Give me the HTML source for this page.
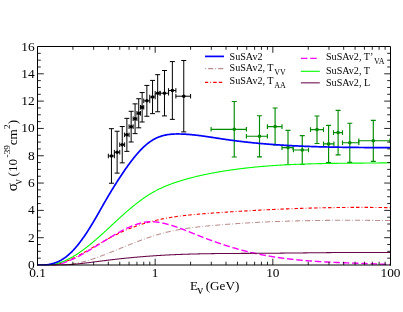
<!DOCTYPE html>
<html><head><meta charset="utf-8"><title>SuSAv2 cross section</title>
<style>html,body{margin:0;padding:0;background:#fff}svg{display:block;will-change:transform;opacity:0.999}text{font-family:"Liberation Serif",serif;fill:#000}</style>
</head><body>
<svg width="403" height="312" viewBox="0 0 403 312">
<rect width="403" height="312" fill="#fff"/>
<defs><clipPath id="c"><rect x="37.0" y="46.0" width="354.0" height="219.5"/></clipPath></defs>
<g clip-path="url(#c)">
<g stroke="#000" stroke-width="1.0" fill="none"><path d="M111.44,128.68V183.23M108.94,128.68H113.94M108.94,183.23H113.94M108.34,155.95H114.36M108.34,153.65V158.25M114.36,153.65V158.25"/><circle cx="111.44" cy="155.95" r="1.75" fill="#000" stroke="none"/></g>
<g stroke="#000" stroke-width="1.0" fill="none"><path d="M117.12,131.26V173.11M114.62,131.26H119.62M114.62,173.11H119.62M114.36,152.19H119.75M114.36,149.89V154.49M119.75,149.89V154.49"/><circle cx="117.12" cy="152.19" r="1.75" fill="#000" stroke="none"/></g>
<g stroke="#000" stroke-width="1.0" fill="none"><path d="M122.24,126.54V162.86M119.74,126.54H124.74M119.74,162.86H124.74M119.75,144.70H124.62M119.75,142.40V147.00M124.62,142.40V147.00"/><circle cx="122.24" cy="144.70" r="1.75" fill="#000" stroke="none"/></g>
<g stroke="#000" stroke-width="1.0" fill="none"><path d="M126.89,118.35V151.37M124.39,118.35H129.39M124.39,151.37H129.39M124.62,134.86H129.06M124.62,132.56V137.16M129.06,132.56V137.16"/><circle cx="126.89" cy="134.86" r="1.75" fill="#000" stroke="none"/></g>
<g stroke="#000" stroke-width="1.0" fill="none"><path d="M131.15,111.31V142.01M128.65,111.31H133.65M128.65,142.01H133.65M129.06,126.66H133.15M129.06,124.36V128.96M133.15,124.36V128.96"/><circle cx="131.15" cy="126.66" r="1.75" fill="#000" stroke="none"/></g>
<g stroke="#000" stroke-width="1.0" fill="none"><path d="M135.08,103.87V133.61M132.58,103.87H137.58M132.58,133.61H137.58M133.15,118.74H136.94M133.15,116.44V121.04M136.94,116.44V121.04"/><circle cx="135.08" cy="118.74" r="1.75" fill="#000" stroke="none"/></g>
<g stroke="#000" stroke-width="1.0" fill="none"><path d="M138.73,98.74V127.82M136.23,98.74H141.23M136.23,127.82H141.23M136.94,113.28H140.47M136.94,110.98V115.58M140.47,110.98V115.58"/><circle cx="138.73" cy="113.28" r="1.75" fill="#000" stroke="none"/></g>
<g stroke="#000" stroke-width="1.0" fill="none"><path d="M142.14,92.55V121.99M139.64,92.55H144.64M139.64,121.99H144.64M140.47,107.27H143.76M140.47,104.97V109.57M143.76,104.97V109.57"/><circle cx="142.14" cy="107.27" r="1.75" fill="#000" stroke="none"/></g>
<g stroke="#000" stroke-width="1.0" fill="none"><path d="M146.86,85.43V116.27M144.36,85.43H149.36M144.36,116.27H149.36M143.76,100.85H149.78M143.76,98.55V103.15M149.78,98.55V103.15"/><circle cx="146.86" cy="100.85" r="1.75" fill="#000" stroke="none"/></g>
<g stroke="#000" stroke-width="1.0" fill="none"><path d="M152.55,80.41V113.65M150.05,80.41H155.05M150.05,113.65H155.05M149.78,97.03H155.17M149.78,94.73V99.33M155.17,94.73V99.33"/><circle cx="152.55" cy="97.03" r="1.75" fill="#000" stroke="none"/></g>
<g stroke="#000" stroke-width="1.0" fill="none"><path d="M157.66,74.65V111.76M155.16,74.65H160.16M155.16,111.76H160.16M155.17,93.20H160.04M155.17,90.90V95.50M160.04,90.90V95.50"/><circle cx="157.66" cy="93.20" r="1.75" fill="#000" stroke="none"/></g>
<g stroke="#000" stroke-width="1.0" fill="none"><path d="M164.48,70.51V115.90M161.98,70.51H166.98M161.98,115.90H166.98M160.04,93.20H168.57M160.04,90.90V95.50M168.57,90.90V95.50"/><circle cx="164.48" cy="93.20" r="1.75" fill="#000" stroke="none"/></g>
<g stroke="#000" stroke-width="1.0" fill="none"><path d="M172.36,61.58V119.37M169.86,61.58H174.86M169.86,119.37H174.86M168.57,90.47H175.89M168.57,88.17V92.77M175.89,88.17V92.77"/><circle cx="172.36" cy="90.47" r="1.75" fill="#000" stroke="none"/></g>
<g stroke="#000" stroke-width="1.0" fill="none"><path d="M183.76,60.52V131.89M181.26,60.52H186.26M181.26,131.89H186.26M175.89,96.21H190.59M175.89,93.91V98.51M190.59,93.91V98.51"/><circle cx="183.76" cy="96.21" r="1.75" fill="#000" stroke="none"/></g>
<g stroke="#008b00" stroke-width="1.15" fill="none"><path d="M234.25,101.50V157.00M231.75,101.50H236.75M231.75,157.00H236.75M211.10,129.30H246.40M211.10,127.00V131.60M246.40,127.00V131.60"/><circle cx="234.25" cy="129.30" r="1.8" fill="#008b00" stroke="none"/></g>
<g stroke="#008b00" stroke-width="1.15" fill="none"><path d="M259.50,115.75V156.90M257.00,115.75H262.00M257.00,156.90H262.00M246.40,136.25H267.40M246.40,133.95V138.55M267.40,133.95V138.55"/><circle cx="259.50" cy="136.25" r="1.8" fill="#008b00" stroke="none"/></g>
<g stroke="#008b00" stroke-width="1.15" fill="none"><path d="M275.10,108.00V145.00M272.60,108.00H277.60M272.60,145.00H277.60M267.40,126.60H282.00M267.40,124.30V128.90M282.00,124.30V128.90"/><circle cx="275.10" cy="126.60" r="1.8" fill="#008b00" stroke="none"/></g>
<g stroke="#008b00" stroke-width="1.15" fill="none"><path d="M288.00,130.40V164.50M285.50,130.40H290.50M285.50,164.50H290.50M282.00,147.60H293.10M282.00,145.30V149.90M293.10,145.30V149.90"/><circle cx="288.00" cy="147.60" r="1.8" fill="#008b00" stroke="none"/></g>
<g stroke="#008b00" stroke-width="1.15" fill="none"><path d="M302.25,135.60V164.50M299.75,135.60H304.75M299.75,164.50H304.75M293.40,150.00H308.50M293.40,147.70V152.30M308.50,147.70V152.30"/><circle cx="302.25" cy="150.00" r="1.8" fill="#008b00" stroke="none"/></g>
<g stroke="#008b00" stroke-width="1.15" fill="none"><path d="M317.00,116.00V143.50M314.50,116.00H319.50M314.50,143.50H319.50M310.50,129.60H323.50M310.50,127.30V131.90M323.50,127.30V131.90"/><circle cx="317.00" cy="129.60" r="1.8" fill="#008b00" stroke="none"/></g>
<g stroke="#008b00" stroke-width="1.15" fill="none"><path d="M328.60,125.40V162.50M326.10,125.40H331.10M326.10,162.50H331.10M323.50,143.90H333.90M323.50,141.60V146.20M333.90,141.60V146.20"/><circle cx="328.60" cy="143.90" r="1.8" fill="#008b00" stroke="none"/></g>
<g stroke="#008b00" stroke-width="1.15" fill="none"><path d="M338.10,110.30V154.80M335.60,110.30H340.60M335.60,154.80H340.60M333.50,132.60H342.50M333.50,130.30V134.90M342.50,130.30V134.90"/><circle cx="338.10" cy="132.60" r="1.8" fill="#008b00" stroke="none"/></g>
<g stroke="#008b00" stroke-width="1.15" fill="none"><path d="M349.80,123.20V162.40M347.30,123.20H352.30M347.30,162.40H352.30M342.50,142.70H358.80M342.50,140.40V145.00M358.80,140.40V145.00"/><circle cx="349.80" cy="142.70" r="1.8" fill="#008b00" stroke="none"/></g>
<g stroke="#008b00" stroke-width="1.15" fill="none"><path d="M373.30,120.40V161.40M370.80,120.40H375.80M370.80,161.40H375.80M358.80,140.75H390.00M358.80,138.45V143.05M390.00,138.45V143.05"/><circle cx="373.30" cy="140.75" r="1.8" fill="#008b00" stroke="none"/></g>
<path d="M37.5,264.99 L38.0,265.00 L38.5,265.00 L39.0,265.00 L39.5,265.00 L40.0,265.00 L40.5,265.00 L41.0,265.00 L41.5,265.00 L42.0,265.00 L42.5,265.00 L43.0,265.00 L43.5,265.00 L44.0,265.00 L44.5,265.00 L45.0,265.00 L45.5,265.00 L46.0,265.00 L46.5,265.00 L47.0,265.00 L47.5,265.00 L48.0,265.00 L48.5,265.00 L49.0,265.00 L49.5,265.00 L50.0,265.00 L50.5,265.00 L51.0,265.00 L51.5,265.00 L52.0,265.00 L52.5,265.00 L53.0,265.00 L53.5,265.00 L54.0,265.00 L54.5,265.00 L55.0,265.00 L55.5,265.00 L56.0,265.00 L56.5,265.00 L57.0,265.00 L57.5,265.00 L58.0,265.00 L58.5,265.00 L59.0,265.00 L59.5,265.00 L60.0,265.00 L60.5,265.00 L61.0,265.00 L61.5,265.00 L62.0,265.00 L62.5,265.00 L63.0,264.98 L63.5,264.94 L64.0,264.91 L64.5,264.86 L65.0,264.82 L65.5,264.78 L66.0,264.73 L66.5,264.68 L67.0,264.63 L67.5,264.58 L68.0,264.52 L68.5,264.47 L69.0,264.41 L69.5,264.35 L70.0,264.29 L70.5,264.22 L71.0,264.15 L71.5,264.09 L72.0,264.01 L72.5,263.94 L73.0,263.87 L73.5,263.79 L74.0,263.71 L74.5,263.62 L75.0,263.54 L75.5,263.45 L76.0,263.36 L76.5,263.27 L77.0,263.18 L77.5,263.08 L78.0,262.98 L78.5,262.88 L79.0,262.78 L79.5,262.67 L80.0,262.56 L80.5,262.45 L81.0,262.33 L81.5,262.22 L82.0,262.10 L82.5,261.98 L83.0,261.85 L83.5,261.73 L84.0,261.60 L84.5,261.47 L85.0,261.33 L85.5,261.20 L86.0,261.06 L86.5,260.92 L87.0,260.78 L87.5,260.63 L88.0,260.48 L88.5,260.34 L89.0,260.18 L89.5,260.03 L90.0,259.88 L90.5,259.72 L91.0,259.56 L91.5,259.40 L92.0,259.24 L92.5,259.08 L93.0,258.91 L93.5,258.74 L94.0,258.58 L94.5,258.41 L95.0,258.23 L95.5,258.06 L96.0,257.89 L96.5,257.71 L97.0,257.53 L97.5,257.35 L98.0,257.17 L98.5,256.99 L99.0,256.81 L99.5,256.62 L100.0,256.44 L100.5,256.25 L101.0,256.07 L101.5,255.88 L102.0,255.69 L102.5,255.50 L103.0,255.31 L103.5,255.11 L104.0,254.92 L104.5,254.73 L105.0,254.53 L105.5,254.34 L106.0,254.14 L106.5,253.94 L107.0,253.75 L107.5,253.55 L108.0,253.35 L108.5,253.15 L109.0,252.95 L109.5,252.75 L110.0,252.55 L110.5,252.35 L111.0,252.15 L111.5,251.94 L112.0,251.74 L112.5,251.54 L113.0,251.34 L113.5,251.14 L114.0,250.93 L114.5,250.73 L115.0,250.53 L115.5,250.32 L116.0,250.12 L116.5,249.92 L117.0,249.71 L117.5,249.51 L118.0,249.31 L118.5,249.10 L119.0,248.90 L119.5,248.70 L120.0,248.49 L120.5,248.29 L121.0,248.09 L121.5,247.88 L122.0,247.68 L122.5,247.48 L123.0,247.27 L123.5,247.07 L124.0,246.87 L124.5,246.67 L125.0,246.47 L125.5,246.26 L126.0,246.06 L126.5,245.86 L127.0,245.66 L127.5,245.46 L128.0,245.26 L128.5,245.06 L129.0,244.86 L129.5,244.66 L130.0,244.46 L130.5,244.26 L131.0,244.07 L131.5,243.87 L132.0,243.67 L132.5,243.47 L133.0,243.28 L133.5,243.08 L134.0,242.89 L134.5,242.69 L135.0,242.50 L135.5,242.31 L136.0,242.11 L136.5,241.92 L137.0,241.73 L137.5,241.54 L138.0,241.35 L138.5,241.16 L139.0,240.97 L139.5,240.79 L140.0,240.60 L140.5,240.41 L141.0,240.23 L141.5,240.04 L142.0,239.86 L142.5,239.68 L143.0,239.49 L143.5,239.31 L144.0,239.13 L144.5,238.95 L145.0,238.78 L145.5,238.60 L146.0,238.42 L146.5,238.25 L147.0,238.07 L147.5,237.90 L148.0,237.73 L148.5,237.56 L149.0,237.39 L149.5,237.22 L150.0,237.05 L150.5,236.88 L151.0,236.72 L151.5,236.55 L152.0,236.39 L152.5,236.23 L153.0,236.07 L153.5,235.91 L154.0,235.75 L154.5,235.59 L155.0,235.44 L155.5,235.28 L156.0,235.13 L156.5,234.98 L157.0,234.83 L157.5,234.68 L158.0,234.53 L158.5,234.38 L159.0,234.24 L159.5,234.10 L160.0,233.95 L160.5,233.81 L161.0,233.68 L161.5,233.54 L162.0,233.40 L162.5,233.27 L163.0,233.14 L163.5,233.01 L164.0,232.88 L164.5,232.75 L165.0,232.62 L165.5,232.50 L166.0,232.37 L166.5,232.25 L167.0,232.13 L167.5,232.01 L168.0,231.89 L168.5,231.78 L169.0,231.66 L169.5,231.55 L170.0,231.44 L170.5,231.33 L171.0,231.22 L171.5,231.11 L172.0,231.00 L172.5,230.90 L173.0,230.79 L173.5,230.69 L174.0,230.59 L174.5,230.49 L175.0,230.39 L175.5,230.29 L176.0,230.20 L176.5,230.10 L177.0,230.01 L177.5,229.91 L178.0,229.82 L178.5,229.73 L179.0,229.64 L179.5,229.55 L180.0,229.46 L180.5,229.38 L181.0,229.29 L181.5,229.21 L182.0,229.13 L182.5,229.04 L183.0,228.96 L183.5,228.88 L184.0,228.80 L184.5,228.72 L185.0,228.65 L185.5,228.57 L186.0,228.50 L186.5,228.42 L187.0,228.35 L187.5,228.28 L188.0,228.20 L188.5,228.13 L189.0,228.06 L189.5,227.99 L190.0,227.93 L190.5,227.86 L191.0,227.79 L191.5,227.73 L192.0,227.66 L192.5,227.60 L193.0,227.53 L193.5,227.47 L194.0,227.41 L194.5,227.35 L195.0,227.29 L195.5,227.23 L196.0,227.17 L196.5,227.11 L197.0,227.05 L197.5,226.99 L198.0,226.94 L198.5,226.88 L199.0,226.83 L199.5,226.77 L200.0,226.72 L200.5,226.66 L201.0,226.61 L201.5,226.56 L202.0,226.50 L202.5,226.45 L203.0,226.40 L203.5,226.35 L204.0,226.30 L204.5,226.25 L205.0,226.20 L205.5,226.15 L206.0,226.10 L206.5,226.05 L207.0,226.01 L207.5,225.96 L208.0,225.91 L208.5,225.87 L209.0,225.82 L209.5,225.77 L210.0,225.73 L210.5,225.68 L211.0,225.64 L211.5,225.59 L212.0,225.55 L212.5,225.50 L213.0,225.46 L213.5,225.41 L214.0,225.37 L214.5,225.33 L215.0,225.28 L215.5,225.24 L216.0,225.20 L216.5,225.15 L217.0,225.11 L217.5,225.07 L218.0,225.03 L218.5,224.98 L219.0,224.94 L219.5,224.90 L220.0,224.86 L220.5,224.82 L221.0,224.78 L221.5,224.74 L222.0,224.70 L222.5,224.66 L223.0,224.62 L223.5,224.58 L224.0,224.54 L224.5,224.50 L225.0,224.46 L225.5,224.42 L226.0,224.38 L226.5,224.34 L227.0,224.31 L227.5,224.27 L228.0,224.23 L228.5,224.19 L229.0,224.16 L229.5,224.12 L230.0,224.08 L230.5,224.05 L231.0,224.01 L231.5,223.97 L232.0,223.94 L232.5,223.90 L233.0,223.87 L233.5,223.83 L234.0,223.80 L234.5,223.76 L235.0,223.73 L235.5,223.69 L236.0,223.66 L236.5,223.62 L237.0,223.59 L237.5,223.56 L238.0,223.52 L238.5,223.49 L239.0,223.46 L239.5,223.42 L240.0,223.39 L240.5,223.36 L241.0,223.33 L241.5,223.29 L242.0,223.26 L242.5,223.23 L243.0,223.20 L243.5,223.17 L244.0,223.14 L244.5,223.11 L245.0,223.08 L245.5,223.05 L246.0,223.01 L246.5,222.98 L247.0,222.96 L247.5,222.93 L248.0,222.90 L248.5,222.87 L249.0,222.84 L249.5,222.81 L250.0,222.78 L250.5,222.75 L251.0,222.72 L251.5,222.70 L252.0,222.67 L252.5,222.64 L253.0,222.61 L253.5,222.58 L254.0,222.56 L254.5,222.53 L255.0,222.50 L255.5,222.48 L256.0,222.45 L256.5,222.43 L257.0,222.40 L257.5,222.37 L258.0,222.35 L258.5,222.32 L259.0,222.30 L259.5,222.27 L260.0,222.25 L260.5,222.22 L261.0,222.20 L261.5,222.17 L262.0,222.15 L262.5,222.13 L263.0,222.10 L263.5,222.08 L264.0,222.05 L264.5,222.03 L265.0,222.01 L265.5,221.99 L266.0,221.96 L266.5,221.94 L267.0,221.92 L267.5,221.90 L268.0,221.87 L268.5,221.85 L269.0,221.83 L269.5,221.81 L270.0,221.79 L270.5,221.77 L271.0,221.75 L271.5,221.72 L272.0,221.70 L272.5,221.68 L273.0,221.66 L273.5,221.64 L274.0,221.62 L274.5,221.60 L275.0,221.58 L275.5,221.56 L276.0,221.54 L276.5,221.53 L277.0,221.51 L277.5,221.49 L278.0,221.47 L278.5,221.45 L279.0,221.43 L279.5,221.41 L280.0,221.40 L280.5,221.38 L281.0,221.36 L281.5,221.34 L282.0,221.33 L282.5,221.31 L283.0,221.29 L283.5,221.28 L284.0,221.26 L284.5,221.24 L285.0,221.23 L285.5,221.21 L286.0,221.19 L286.5,221.18 L287.0,221.16 L287.5,221.15 L288.0,221.13 L288.5,221.12 L289.0,221.10 L289.5,221.09 L290.0,221.07 L290.5,221.06 L291.0,221.04 L291.5,221.03 L292.0,221.01 L292.5,221.00 L293.0,220.99 L293.5,220.97 L294.0,220.96 L294.5,220.95 L295.0,220.93 L295.5,220.92 L296.0,220.91 L296.5,220.89 L297.0,220.88 L297.5,220.87 L298.0,220.86 L298.5,220.84 L299.0,220.83 L299.5,220.82 L300.0,220.81 L300.5,220.80 L301.0,220.79 L301.5,220.77 L302.0,220.76 L302.5,220.75 L303.0,220.74 L303.5,220.73 L304.0,220.72 L304.5,220.71 L305.0,220.70 L305.5,220.69 L306.0,220.68 L306.5,220.67 L307.0,220.66 L307.5,220.65 L308.0,220.64 L308.5,220.63 L309.0,220.62 L309.5,220.61 L310.0,220.60 L310.5,220.60 L311.0,220.59 L311.5,220.58 L312.0,220.57 L312.5,220.56 L313.0,220.55 L313.5,220.54 L314.0,220.54 L314.5,220.53 L315.0,220.52 L315.5,220.51 L316.0,220.51 L316.5,220.50 L317.0,220.49 L317.5,220.49 L318.0,220.48 L318.5,220.47 L319.0,220.47 L319.5,220.46 L320.0,220.45 L320.5,220.45 L321.0,220.44 L321.5,220.43 L322.0,220.43 L322.5,220.42 L323.0,220.42 L323.5,220.41 L324.0,220.41 L324.5,220.40 L325.0,220.40 L325.5,220.39 L326.0,220.39 L326.5,220.38 L327.0,220.38 L327.5,220.37 L328.0,220.37 L328.5,220.36 L329.0,220.36 L329.5,220.35 L330.0,220.35 L330.5,220.35 L331.0,220.34 L331.5,220.34 L332.0,220.34 L332.5,220.33 L333.0,220.33 L333.5,220.33 L334.0,220.32 L334.5,220.32 L335.0,220.32 L335.5,220.31 L336.0,220.31 L336.5,220.31 L337.0,220.31 L337.5,220.30 L338.0,220.30 L338.5,220.30 L339.0,220.30 L339.5,220.30 L340.0,220.29 L340.5,220.29 L341.0,220.29 L341.5,220.29 L342.0,220.29 L342.5,220.29 L343.0,220.29 L343.5,220.29 L344.0,220.28 L344.5,220.28 L345.0,220.28 L345.5,220.28 L346.0,220.28 L346.5,220.28 L347.0,220.28 L347.5,220.28 L348.0,220.28 L348.5,220.28 L349.0,220.28 L349.5,220.28 L350.0,220.28 L350.5,220.28 L351.0,220.28 L351.5,220.28 L352.0,220.28 L352.5,220.28 L353.0,220.28 L353.5,220.29 L354.0,220.29 L354.5,220.29 L355.0,220.29 L355.5,220.29 L356.0,220.29 L356.5,220.29 L357.0,220.29 L357.5,220.30 L358.0,220.30 L358.5,220.30 L359.0,220.30 L359.5,220.30 L360.0,220.31 L360.5,220.31 L361.0,220.31 L361.5,220.31 L362.0,220.31 L362.5,220.32 L363.0,220.32 L363.5,220.32 L364.0,220.32 L364.5,220.33 L365.0,220.33 L365.5,220.33 L366.0,220.34 L366.5,220.34 L367.0,220.34 L367.5,220.35 L368.0,220.35 L368.5,220.35 L369.0,220.36 L369.5,220.36 L370.0,220.36 L370.5,220.37 L371.0,220.37 L371.5,220.37 L372.0,220.38 L372.5,220.38 L373.0,220.39 L373.5,220.39 L374.0,220.40 L374.5,220.40 L375.0,220.40 L375.5,220.41 L376.0,220.41 L376.5,220.42 L377.0,220.42 L377.5,220.43 L378.0,220.43 L378.5,220.44 L379.0,220.44 L379.5,220.45 L380.0,220.45 L380.5,220.46 L381.0,220.46 L381.5,220.47 L382.0,220.47 L382.5,220.48 L383.0,220.48 L383.5,220.49 L384.0,220.49 L384.5,220.50 L385.0,220.51 L385.5,220.51 L386.0,220.52 L386.5,220.52 L387.0,220.53 L387.5,220.54 L388.0,220.54 L388.5,220.55 L389.0,220.55 L389.5,220.56 L390.0,220.57 L390.5,220.57" fill="none" stroke="#bc8f8f" stroke-width="1.05" stroke-dasharray="5.2 2.0 0.8 2.0" stroke-dashoffset="6.38"/>
<path d="M37.5,265.00 L38.0,265.00 L38.5,265.00 L39.0,265.00 L39.5,265.00 L40.0,265.00 L40.5,265.00 L41.0,265.00 L41.5,265.00 L42.0,265.00 L42.5,265.00 L43.0,265.00 L43.5,265.00 L44.0,265.00 L44.5,265.00 L45.0,265.00 L45.5,265.00 L46.0,265.00 L46.5,265.00 L47.0,265.00 L47.5,265.00 L48.0,265.00 L48.5,265.00 L49.0,265.00 L49.5,265.00 L50.0,265.00 L50.5,265.00 L51.0,265.00 L51.5,265.00 L52.0,265.00 L52.5,265.00 L53.0,265.00 L53.5,265.00 L54.0,265.00 L54.5,265.00 L55.0,264.94 L55.5,264.83 L56.0,264.71 L56.5,264.59 L57.0,264.46 L57.5,264.33 L58.0,264.20 L58.5,264.06 L59.0,263.91 L59.5,263.76 L60.0,263.61 L60.5,263.45 L61.0,263.29 L61.5,263.12 L62.0,262.95 L62.5,262.78 L63.0,262.60 L63.5,262.42 L64.0,262.23 L64.5,262.04 L65.0,261.84 L65.5,261.65 L66.0,261.45 L66.5,261.24 L67.0,261.03 L67.5,260.82 L68.0,260.61 L68.5,260.39 L69.0,260.17 L69.5,259.95 L70.0,259.72 L70.5,259.49 L71.0,259.26 L71.5,259.02 L72.0,258.79 L72.5,258.55 L73.0,258.30 L73.5,258.06 L74.0,257.81 L74.5,257.56 L75.0,257.31 L75.5,257.06 L76.0,256.80 L76.5,256.54 L77.0,256.29 L77.5,256.02 L78.0,255.76 L78.5,255.50 L79.0,255.23 L79.5,254.96 L80.0,254.69 L80.5,254.42 L81.0,254.15 L81.5,253.87 L82.0,253.60 L82.5,253.32 L83.0,253.04 L83.5,252.77 L84.0,252.49 L84.5,252.20 L85.0,251.92 L85.5,251.64 L86.0,251.36 L86.5,251.07 L87.0,250.79 L87.5,250.50 L88.0,250.21 L88.5,249.93 L89.0,249.64 L89.5,249.35 L90.0,249.06 L90.5,248.77 L91.0,248.48 L91.5,248.19 L92.0,247.90 L92.5,247.61 L93.0,247.32 L93.5,247.03 L94.0,246.74 L94.5,246.45 L95.0,246.16 L95.5,245.87 L96.0,245.58 L96.5,245.29 L97.0,245.01 L97.5,244.72 L98.0,244.43 L98.5,244.14 L99.0,243.86 L99.5,243.57 L100.0,243.29 L100.5,243.00 L101.0,242.72 L101.5,242.43 L102.0,242.15 L102.5,241.87 L103.0,241.59 L103.5,241.31 L104.0,241.03 L104.5,240.76 L105.0,240.48 L105.5,240.20 L106.0,239.93 L106.5,239.66 L107.0,239.38 L107.5,239.11 L108.0,238.84 L108.5,238.57 L109.0,238.31 L109.5,238.04 L110.0,237.77 L110.5,237.51 L111.0,237.25 L111.5,236.98 L112.0,236.72 L112.5,236.47 L113.0,236.21 L113.5,235.95 L114.0,235.70 L114.5,235.44 L115.0,235.19 L115.5,234.94 L116.0,234.69 L116.5,234.44 L117.0,234.20 L117.5,233.95 L118.0,233.71 L118.5,233.47 L119.0,233.23 L119.5,232.99 L120.0,232.75 L120.5,232.52 L121.0,232.28 L121.5,232.05 L122.0,231.82 L122.5,231.60 L123.0,231.37 L123.5,231.15 L124.0,230.92 L124.5,230.70 L125.0,230.48 L125.5,230.27 L126.0,230.05 L126.5,229.84 L127.0,229.63 L127.5,229.42 L128.0,229.21 L128.5,229.01 L129.0,228.80 L129.5,228.60 L130.0,228.40 L130.5,228.20 L131.0,228.01 L131.5,227.81 L132.0,227.62 L132.5,227.43 L133.0,227.24 L133.5,227.05 L134.0,226.87 L134.5,226.68 L135.0,226.50 L135.5,226.32 L136.0,226.14 L136.5,225.96 L137.0,225.79 L137.5,225.62 L138.0,225.44 L138.5,225.27 L139.0,225.10 L139.5,224.94 L140.0,224.77 L140.5,224.61 L141.0,224.45 L141.5,224.29 L142.0,224.13 L142.5,223.97 L143.0,223.82 L143.5,223.66 L144.0,223.51 L144.5,223.36 L145.0,223.21 L145.5,223.06 L146.0,222.92 L146.5,222.77 L147.0,222.63 L147.5,222.49 L148.0,222.35 L148.5,222.21 L149.0,222.07 L149.5,221.94 L150.0,221.80 L150.5,221.67 L151.0,221.54 L151.5,221.41 L152.0,221.28 L152.5,221.16 L153.0,221.03 L153.5,220.91 L154.0,220.78 L154.5,220.66 L155.0,220.54 L155.5,220.43 L156.0,220.31 L156.5,220.19 L157.0,220.08 L157.5,219.97 L158.0,219.85 L158.5,219.74 L159.0,219.63 L159.5,219.53 L160.0,219.42 L160.5,219.32 L161.0,219.21 L161.5,219.11 L162.0,219.01 L162.5,218.91 L163.0,218.81 L163.5,218.71 L164.0,218.61 L164.5,218.52 L165.0,218.42 L165.5,218.33 L166.0,218.24 L166.5,218.15 L167.0,218.06 L167.5,217.97 L168.0,217.88 L168.5,217.79 L169.0,217.71 L169.5,217.62 L170.0,217.54 L170.5,217.46 L171.0,217.38 L171.5,217.30 L172.0,217.22 L172.5,217.14 L173.0,217.06 L173.5,216.99 L174.0,216.91 L174.5,216.84 L175.0,216.76 L175.5,216.69 L176.0,216.62 L176.5,216.55 L177.0,216.48 L177.5,216.41 L178.0,216.34 L178.5,216.27 L179.0,216.20 L179.5,216.14 L180.0,216.07 L180.5,216.01 L181.0,215.95 L181.5,215.88 L182.0,215.82 L182.5,215.76 L183.0,215.70 L183.5,215.64 L184.0,215.58 L184.5,215.52 L185.0,215.47 L185.5,215.41 L186.0,215.35 L186.5,215.30 L187.0,215.24 L187.5,215.19 L188.0,215.14 L188.5,215.08 L189.0,215.03 L189.5,214.98 L190.0,214.93 L190.5,214.88 L191.0,214.83 L191.5,214.78 L192.0,214.73 L192.5,214.68 L193.0,214.64 L193.5,214.59 L194.0,214.54 L194.5,214.50 L195.0,214.45 L195.5,214.41 L196.0,214.36 L196.5,214.32 L197.0,214.27 L197.5,214.23 L198.0,214.19 L198.5,214.14 L199.0,214.10 L199.5,214.06 L200.0,214.02 L200.5,213.98 L201.0,213.94 L201.5,213.90 L202.0,213.86 L202.5,213.82 L203.0,213.78 L203.5,213.74 L204.0,213.70 L204.5,213.66 L205.0,213.62 L205.5,213.59 L206.0,213.55 L206.5,213.51 L207.0,213.47 L207.5,213.44 L208.0,213.40 L208.5,213.36 L209.0,213.32 L209.5,213.29 L210.0,213.25 L210.5,213.22 L211.0,213.18 L211.5,213.14 L212.0,213.11 L212.5,213.07 L213.0,213.04 L213.5,213.00 L214.0,212.97 L214.5,212.93 L215.0,212.90 L215.5,212.86 L216.0,212.82 L216.5,212.79 L217.0,212.75 L217.5,212.72 L218.0,212.69 L218.5,212.65 L219.0,212.62 L219.5,212.58 L220.0,212.55 L220.5,212.51 L221.0,212.48 L221.5,212.44 L222.0,212.41 L222.5,212.38 L223.0,212.34 L223.5,212.31 L224.0,212.28 L224.5,212.24 L225.0,212.21 L225.5,212.18 L226.0,212.14 L226.5,212.11 L227.0,212.08 L227.5,212.04 L228.0,212.01 L228.5,211.98 L229.0,211.95 L229.5,211.91 L230.0,211.88 L230.5,211.85 L231.0,211.82 L231.5,211.78 L232.0,211.75 L232.5,211.72 L233.0,211.69 L233.5,211.66 L234.0,211.62 L234.5,211.59 L235.0,211.56 L235.5,211.53 L236.0,211.50 L236.5,211.47 L237.0,211.44 L237.5,211.41 L238.0,211.38 L238.5,211.34 L239.0,211.31 L239.5,211.28 L240.0,211.25 L240.5,211.22 L241.0,211.19 L241.5,211.16 L242.0,211.13 L242.5,211.10 L243.0,211.07 L243.5,211.04 L244.0,211.01 L244.5,210.98 L245.0,210.95 L245.5,210.93 L246.0,210.90 L246.5,210.87 L247.0,210.84 L247.5,210.81 L248.0,210.78 L248.5,210.75 L249.0,210.72 L249.5,210.69 L250.0,210.67 L250.5,210.64 L251.0,210.61 L251.5,210.58 L252.0,210.55 L252.5,210.53 L253.0,210.50 L253.5,210.47 L254.0,210.44 L254.5,210.42 L255.0,210.39 L255.5,210.36 L256.0,210.34 L256.5,210.31 L257.0,210.28 L257.5,210.25 L258.0,210.23 L258.5,210.20 L259.0,210.18 L259.5,210.15 L260.0,210.12 L260.5,210.10 L261.0,210.07 L261.5,210.04 L262.0,210.02 L262.5,209.99 L263.0,209.97 L263.5,209.94 L264.0,209.92 L264.5,209.89 L265.0,209.87 L265.5,209.84 L266.0,209.82 L266.5,209.79 L267.0,209.77 L267.5,209.74 L268.0,209.72 L268.5,209.70 L269.0,209.67 L269.5,209.65 L270.0,209.62 L270.5,209.60 L271.0,209.58 L271.5,209.55 L272.0,209.53 L272.5,209.51 L273.0,209.48 L273.5,209.46 L274.0,209.44 L274.5,209.41 L275.0,209.39 L275.5,209.37 L276.0,209.35 L276.5,209.32 L277.0,209.30 L277.5,209.28 L278.0,209.26 L278.5,209.23 L279.0,209.21 L279.5,209.19 L280.0,209.17 L280.5,209.15 L281.0,209.13 L281.5,209.11 L282.0,209.08 L282.5,209.06 L283.0,209.04 L283.5,209.02 L284.0,209.00 L284.5,208.98 L285.0,208.96 L285.5,208.94 L286.0,208.92 L286.5,208.90 L287.0,208.88 L287.5,208.86 L288.0,208.84 L288.5,208.82 L289.0,208.80 L289.5,208.78 L290.0,208.76 L290.5,208.74 L291.0,208.72 L291.5,208.71 L292.0,208.69 L292.5,208.67 L293.0,208.65 L293.5,208.63 L294.0,208.61 L294.5,208.60 L295.0,208.58 L295.5,208.56 L296.0,208.54 L296.5,208.52 L297.0,208.51 L297.5,208.49 L298.0,208.47 L298.5,208.46 L299.0,208.44 L299.5,208.42 L300.0,208.41 L300.5,208.39 L301.0,208.37 L301.5,208.36 L302.0,208.34 L302.5,208.32 L303.0,208.31 L303.5,208.29 L304.0,208.28 L304.5,208.26 L305.0,208.25 L305.5,208.23 L306.0,208.22 L306.5,208.20 L307.0,208.19 L307.5,208.17 L308.0,208.16 L308.5,208.14 L309.0,208.13 L309.5,208.11 L310.0,208.10 L310.5,208.08 L311.0,208.07 L311.5,208.06 L312.0,208.04 L312.5,208.03 L313.0,208.02 L313.5,208.00 L314.0,207.99 L314.5,207.98 L315.0,207.96 L315.5,207.95 L316.0,207.94 L316.5,207.93 L317.0,207.91 L317.5,207.90 L318.0,207.89 L318.5,207.88 L319.0,207.87 L319.5,207.86 L320.0,207.84 L320.5,207.83 L321.0,207.82 L321.5,207.81 L322.0,207.80 L322.5,207.79 L323.0,207.78 L323.5,207.77 L324.0,207.76 L324.5,207.75 L325.0,207.74 L325.5,207.73 L326.0,207.72 L326.5,207.71 L327.0,207.70 L327.5,207.69 L328.0,207.68 L328.5,207.67 L329.0,207.66 L329.5,207.65 L330.0,207.64 L330.5,207.64 L331.0,207.63 L331.5,207.62 L332.0,207.61 L332.5,207.60 L333.0,207.59 L333.5,207.59 L334.0,207.58 L334.5,207.57 L335.0,207.56 L335.5,207.56 L336.0,207.55 L336.5,207.54 L337.0,207.54 L337.5,207.53 L338.0,207.52 L338.5,207.52 L339.0,207.51 L339.5,207.50 L340.0,207.50 L340.5,207.49 L341.0,207.49 L341.5,207.48 L342.0,207.48 L342.5,207.47 L343.0,207.47 L343.5,207.46 L344.0,207.46 L344.5,207.45 L345.0,207.45 L345.5,207.44 L346.0,207.44 L346.5,207.44 L347.0,207.43 L347.5,207.43 L348.0,207.42 L348.5,207.42 L349.0,207.42 L349.5,207.41 L350.0,207.41 L350.5,207.41 L351.0,207.41 L351.5,207.40 L352.0,207.40 L352.5,207.40 L353.0,207.40 L353.5,207.39 L354.0,207.39 L354.5,207.39 L355.0,207.39 L355.5,207.39 L356.0,207.39 L356.5,207.39 L357.0,207.38 L357.5,207.38 L358.0,207.38 L358.5,207.38 L359.0,207.38 L359.5,207.38 L360.0,207.38 L360.5,207.38 L361.0,207.38 L361.5,207.38 L362.0,207.38 L362.5,207.38 L363.0,207.39 L363.5,207.39 L364.0,207.39 L364.5,207.39 L365.0,207.39 L365.5,207.39 L366.0,207.39 L366.5,207.40 L367.0,207.40 L367.5,207.40 L368.0,207.40 L368.5,207.41 L369.0,207.41 L369.5,207.41 L370.0,207.41 L370.5,207.42 L371.0,207.42 L371.5,207.42 L372.0,207.43 L372.5,207.43 L373.0,207.44 L373.5,207.44 L374.0,207.44 L374.5,207.45 L375.0,207.45 L375.5,207.46 L376.0,207.46 L376.5,207.47 L377.0,207.47 L377.5,207.48 L378.0,207.48 L378.5,207.49 L379.0,207.50 L379.5,207.50 L380.0,207.51 L380.5,207.51 L381.0,207.52 L381.5,207.53 L382.0,207.53 L382.5,207.54 L383.0,207.55 L383.5,207.56 L384.0,207.56 L384.5,207.57 L385.0,207.58 L385.5,207.59 L386.0,207.59 L386.5,207.60 L387.0,207.61 L387.5,207.62 L388.0,207.63 L388.5,207.64 L389.0,207.65 L389.5,207.66 L390.0,207.66 L390.5,207.67" fill="none" stroke="#ff0000" stroke-width="1.1" stroke-dasharray="3.5 2.0 3.5 2.1 0.8 2.1" stroke-dashoffset="12.43"/>
<path d="M37.5,265.00 L38.0,265.00 L38.5,265.00 L39.0,265.00 L39.5,265.00 L40.0,265.00 L40.5,265.00 L41.0,265.00 L41.5,265.00 L42.0,265.00 L42.5,265.00 L43.0,265.00 L43.5,265.00 L44.0,265.00 L44.5,265.00 L45.0,265.00 L45.5,265.00 L46.0,265.00 L46.5,265.00 L47.0,265.00 L47.5,265.00 L48.0,265.00 L48.5,265.00 L49.0,265.00 L49.5,265.00 L50.0,265.00 L50.5,265.00 L51.0,265.00 L51.5,265.00 L52.0,265.00 L52.5,265.00 L53.0,265.00 L53.5,265.00 L54.0,265.00 L54.5,265.00 L55.0,265.00 L55.5,264.94 L56.0,264.84 L56.5,264.74 L57.0,264.63 L57.5,264.52 L58.0,264.40 L58.5,264.27 L59.0,264.15 L59.5,264.02 L60.0,263.88 L60.5,263.74 L61.0,263.60 L61.5,263.45 L62.0,263.30 L62.5,263.14 L63.0,262.98 L63.5,262.81 L64.0,262.65 L64.5,262.47 L65.0,262.30 L65.5,262.12 L66.0,261.94 L66.5,261.75 L67.0,261.56 L67.5,261.36 L68.0,261.17 L68.5,260.97 L69.0,260.76 L69.5,260.55 L70.0,260.34 L70.5,260.13 L71.0,259.91 L71.5,259.69 L72.0,259.47 L72.5,259.24 L73.0,259.01 L73.5,258.78 L74.0,258.55 L74.5,258.31 L75.0,258.07 L75.5,257.83 L76.0,257.58 L76.5,257.33 L77.0,257.08 L77.5,256.83 L78.0,256.57 L78.5,256.31 L79.0,256.05 L79.5,255.79 L80.0,255.53 L80.5,255.26 L81.0,254.99 L81.5,254.72 L82.0,254.44 L82.5,254.17 L83.0,253.89 L83.5,253.61 L84.0,253.33 L84.5,253.05 L85.0,252.77 L85.5,252.48 L86.0,252.19 L86.5,251.90 L87.0,251.61 L87.5,251.32 L88.0,251.03 L88.5,250.73 L89.0,250.44 L89.5,250.14 L90.0,249.84 L90.5,249.54 L91.0,249.24 L91.5,248.94 L92.0,248.64 L92.5,248.33 L93.0,248.03 L93.5,247.72 L94.0,247.42 L94.5,247.11 L95.0,246.80 L95.5,246.49 L96.0,246.19 L96.5,245.88 L97.0,245.57 L97.5,245.26 L98.0,244.95 L98.5,244.64 L99.0,244.33 L99.5,244.02 L100.0,243.70 L100.5,243.39 L101.0,243.08 L101.5,242.77 L102.0,242.46 L102.5,242.15 L103.0,241.84 L103.5,241.53 L104.0,241.22 L104.5,240.91 L105.0,240.60 L105.5,240.29 L106.0,239.98 L106.5,239.67 L107.0,239.36 L107.5,239.06 L108.0,238.75 L108.5,238.45 L109.0,238.14 L109.5,237.84 L110.0,237.53 L110.5,237.23 L111.0,236.93 L111.5,236.63 L112.0,236.33 L112.5,236.04 L113.0,235.74 L113.5,235.45 L114.0,235.15 L114.5,234.86 L115.0,234.57 L115.5,234.28 L116.0,234.00 L116.5,233.71 L117.0,233.43 L117.5,233.15 L118.0,232.87 L118.5,232.59 L119.0,232.31 L119.5,232.04 L120.0,231.77 L120.5,231.50 L121.0,231.23 L121.5,230.97 L122.0,230.70 L122.5,230.44 L123.0,230.19 L123.5,229.93 L124.0,229.68 L124.5,229.43 L125.0,229.18 L125.5,228.94 L126.0,228.69 L126.5,228.46 L127.0,228.22 L127.5,227.99 L128.0,227.76 L128.5,227.53 L129.0,227.31 L129.5,227.09 L130.0,226.87 L130.5,226.66 L131.0,226.44 L131.5,226.24 L132.0,226.03 L132.5,225.83 L133.0,225.64 L133.5,225.45 L134.0,225.26 L134.5,225.07 L135.0,224.89 L135.5,224.71 L136.0,224.54 L136.5,224.37 L137.0,224.21 L137.5,224.04 L138.0,223.89 L138.5,223.73 L139.0,223.59 L139.5,223.44 L140.0,223.30 L140.5,223.17 L141.0,223.04 L141.5,222.92 L142.0,222.80 L142.5,222.69 L143.0,222.58 L143.5,222.48 L144.0,222.38 L144.5,222.29 L145.0,222.20 L145.5,222.12 L146.0,222.05 L146.5,221.98 L147.0,221.92 L147.5,221.87 L148.0,221.82 L148.5,221.78 L149.0,221.75 L149.5,221.72 L150.0,221.70 L150.5,221.68 L151.0,221.68 L151.5,221.68 L152.0,221.68 L152.5,221.69 L153.0,221.71 L153.5,221.74 L154.0,221.77 L154.5,221.80 L155.0,221.84 L155.5,221.89 L156.0,221.94 L156.5,222.00 L157.0,222.06 L157.5,222.12 L158.0,222.20 L158.5,222.27 L159.0,222.35 L159.5,222.43 L160.0,222.52 L160.5,222.61 L161.0,222.70 L161.5,222.80 L162.0,222.90 L162.5,223.01 L163.0,223.12 L163.5,223.23 L164.0,223.34 L164.5,223.46 L165.0,223.58 L165.5,223.70 L166.0,223.82 L166.5,223.95 L167.0,224.08 L167.5,224.22 L168.0,224.35 L168.5,224.49 L169.0,224.63 L169.5,224.77 L170.0,224.92 L170.5,225.07 L171.0,225.22 L171.5,225.37 L172.0,225.53 L172.5,225.68 L173.0,225.84 L173.5,226.00 L174.0,226.17 L174.5,226.33 L175.0,226.50 L175.5,226.67 L176.0,226.84 L176.5,227.01 L177.0,227.19 L177.5,227.36 L178.0,227.54 L178.5,227.72 L179.0,227.90 L179.5,228.08 L180.0,228.26 L180.5,228.45 L181.0,228.63 L181.5,228.82 L182.0,229.01 L182.5,229.20 L183.0,229.39 L183.5,229.58 L184.0,229.77 L184.5,229.97 L185.0,230.16 L185.5,230.36 L186.0,230.55 L186.5,230.75 L187.0,230.95 L187.5,231.14 L188.0,231.34 L188.5,231.54 L189.0,231.74 L189.5,231.94 L190.0,232.14 L190.5,232.34 L191.0,232.54 L191.5,232.75 L192.0,232.95 L192.5,233.15 L193.0,233.35 L193.5,233.55 L194.0,233.75 L194.5,233.96 L195.0,234.16 L195.5,234.36 L196.0,234.56 L196.5,234.76 L197.0,234.96 L197.5,235.16 L198.0,235.36 L198.5,235.56 L199.0,235.76 L199.5,235.96 L200.0,236.16 L200.5,236.35 L201.0,236.55 L201.5,236.74 L202.0,236.94 L202.5,237.13 L203.0,237.33 L203.5,237.52 L204.0,237.71 L204.5,237.90 L205.0,238.10 L205.5,238.29 L206.0,238.48 L206.5,238.67 L207.0,238.85 L207.5,239.04 L208.0,239.23 L208.5,239.41 L209.0,239.60 L209.5,239.79 L210.0,239.97 L210.5,240.15 L211.0,240.34 L211.5,240.52 L212.0,240.70 L212.5,240.88 L213.0,241.06 L213.5,241.24 L214.0,241.42 L214.5,241.60 L215.0,241.78 L215.5,241.95 L216.0,242.13 L216.5,242.30 L217.0,242.48 L217.5,242.65 L218.0,242.82 L218.5,243.00 L219.0,243.17 L219.5,243.34 L220.0,243.51 L220.5,243.68 L221.0,243.85 L221.5,244.01 L222.0,244.18 L222.5,244.35 L223.0,244.51 L223.5,244.68 L224.0,244.84 L224.5,245.00 L225.0,245.17 L225.5,245.33 L226.0,245.49 L226.5,245.65 L227.0,245.81 L227.5,245.96 L228.0,246.12 L228.5,246.28 L229.0,246.43 L229.5,246.59 L230.0,246.74 L230.5,246.90 L231.0,247.05 L231.5,247.20 L232.0,247.35 L232.5,247.50 L233.0,247.65 L233.5,247.80 L234.0,247.95 L234.5,248.09 L235.0,248.24 L235.5,248.39 L236.0,248.53 L236.5,248.67 L237.0,248.82 L237.5,248.96 L238.0,249.10 L238.5,249.24 L239.0,249.38 L239.5,249.51 L240.0,249.65 L240.5,249.79 L241.0,249.92 L241.5,250.06 L242.0,250.19 L242.5,250.33 L243.0,250.46 L243.5,250.59 L244.0,250.72 L244.5,250.85 L245.0,250.98 L245.5,251.10 L246.0,251.23 L246.5,251.36 L247.0,251.48 L247.5,251.60 L248.0,251.73 L248.5,251.85 L249.0,251.97 L249.5,252.09 L250.0,252.21 L250.5,252.33 L251.0,252.44 L251.5,252.56 L252.0,252.67 L252.5,252.79 L253.0,252.90 L253.5,253.02 L254.0,253.13 L254.5,253.24 L255.0,253.35 L255.5,253.46 L256.0,253.56 L256.5,253.67 L257.0,253.78 L257.5,253.88 L258.0,253.99 L258.5,254.09 L259.0,254.20 L259.5,254.30 L260.0,254.40 L260.5,254.50 L261.0,254.60 L261.5,254.70 L262.0,254.79 L262.5,254.89 L263.0,254.99 L263.5,255.08 L264.0,255.18 L264.5,255.27 L265.0,255.36 L265.5,255.46 L266.0,255.55 L266.5,255.64 L267.0,255.73 L267.5,255.82 L268.0,255.91 L268.5,255.99 L269.0,256.08 L269.5,256.17 L270.0,256.25 L270.5,256.33 L271.0,256.42 L271.5,256.50 L272.0,256.58 L272.5,256.66 L273.0,256.74 L273.5,256.82 L274.0,256.90 L274.5,256.98 L275.0,257.06 L275.5,257.14 L276.0,257.21 L276.5,257.29 L277.0,257.36 L277.5,257.44 L278.0,257.51 L278.5,257.58 L279.0,257.66 L279.5,257.73 L280.0,257.80 L280.5,257.87 L281.0,257.94 L281.5,258.01 L282.0,258.07 L282.5,258.14 L283.0,258.21 L283.5,258.27 L284.0,258.34 L284.5,258.40 L285.0,258.47 L285.5,258.53 L286.0,258.59 L286.5,258.66 L287.0,258.72 L287.5,258.78 L288.0,258.84 L288.5,258.90 L289.0,258.96 L289.5,259.02 L290.0,259.07 L290.5,259.13 L291.0,259.19 L291.5,259.25 L292.0,259.30 L292.5,259.36 L293.0,259.41 L293.5,259.46 L294.0,259.52 L294.5,259.57 L295.0,259.62 L295.5,259.67 L296.0,259.73 L296.5,259.78 L297.0,259.83 L297.5,259.88 L298.0,259.93 L298.5,259.97 L299.0,260.02 L299.5,260.07 L300.0,260.12 L300.5,260.16 L301.0,260.21 L301.5,260.25 L302.0,260.30 L302.5,260.34 L303.0,260.39 L303.5,260.43 L304.0,260.47 L304.5,260.52 L305.0,260.56 L305.5,260.60 L306.0,260.64 L306.5,260.68 L307.0,260.72 L307.5,260.76 L308.0,260.80 L308.5,260.84 L309.0,260.88 L309.5,260.92 L310.0,260.96 L310.5,260.99 L311.0,261.03 L311.5,261.07 L312.0,261.10 L312.5,261.14 L313.0,261.17 L313.5,261.21 L314.0,261.24 L314.5,261.28 L315.0,261.31 L315.5,261.34 L316.0,261.38 L316.5,261.41 L317.0,261.44 L317.5,261.47 L318.0,261.51 L318.5,261.54 L319.0,261.57 L319.5,261.60 L320.0,261.63 L320.5,261.66 L321.0,261.69 L321.5,261.72 L322.0,261.75 L322.5,261.78 L323.0,261.80 L323.5,261.83 L324.0,261.86 L324.5,261.89 L325.0,261.91 L325.5,261.94 L326.0,261.97 L326.5,261.99 L327.0,262.02 L327.5,262.04 L328.0,262.07 L328.5,262.10 L329.0,262.12 L329.5,262.14 L330.0,262.17 L330.5,262.19 L331.0,262.22 L331.5,262.24 L332.0,262.26 L332.5,262.29 L333.0,262.31 L333.5,262.33 L334.0,262.36 L334.5,262.38 L335.0,262.40 L335.5,262.42 L336.0,262.44 L336.5,262.47 L337.0,262.49 L337.5,262.51 L338.0,262.53 L338.5,262.55 L339.0,262.57 L339.5,262.59 L340.0,262.61 L340.5,262.63 L341.0,262.65 L341.5,262.67 L342.0,262.69 L342.5,262.71 L343.0,262.73 L343.5,262.75 L344.0,262.77 L344.5,262.79 L345.0,262.80 L345.5,262.82 L346.0,262.84 L346.5,262.86 L347.0,262.88 L347.5,262.90 L348.0,262.92 L348.5,262.93 L349.0,262.95 L349.5,262.97 L350.0,262.99 L350.5,263.01 L351.0,263.02 L351.5,263.04 L352.0,263.06 L352.5,263.08 L353.0,263.09 L353.5,263.11 L354.0,263.13 L354.5,263.15 L355.0,263.16 L355.5,263.18 L356.0,263.20 L356.5,263.21 L357.0,263.23 L357.5,263.25 L358.0,263.27 L358.5,263.28 L359.0,263.30 L359.5,263.32 L360.0,263.34 L360.5,263.35 L361.0,263.37 L361.5,263.39 L362.0,263.40 L362.5,263.42 L363.0,263.44 L363.5,263.46 L364.0,263.47 L364.5,263.49 L365.0,263.51 L365.5,263.53 L366.0,263.54 L366.5,263.56 L367.0,263.58 L367.5,263.60 L368.0,263.61 L368.5,263.63 L369.0,263.65 L369.5,263.67 L370.0,263.69 L370.5,263.71 L371.0,263.72 L371.5,263.74 L372.0,263.76 L372.5,263.78 L373.0,263.80 L373.5,263.82 L374.0,263.84 L374.5,263.86 L375.0,263.88 L375.5,263.89 L376.0,263.91 L376.5,263.93 L377.0,263.95 L377.5,263.97 L378.0,263.99 L378.5,264.02 L379.0,264.04 L379.5,264.06 L380.0,264.08 L380.5,264.10 L381.0,264.12 L381.5,264.14 L382.0,264.16 L382.5,264.19 L383.0,264.21 L383.5,264.23 L384.0,264.25 L384.5,264.27 L385.0,264.30 L385.5,264.32 L386.0,264.34 L386.5,264.37 L387.0,264.39 L387.5,264.42 L388.0,264.44 L388.5,264.47 L389.0,264.49 L389.5,264.52 L390.0,264.54 L390.5,264.57" fill="none" stroke="#ff00ff" stroke-width="1.4" stroke-dasharray="6.5 2.8" stroke-dashoffset="4.31"/>
<path d="M37.5,264.98 L38.0,265.00 L38.5,265.00 L39.0,265.00 L39.5,265.00 L40.0,265.00 L40.5,265.00 L41.0,265.00 L41.5,265.00 L42.0,265.00 L42.5,265.00 L43.0,265.00 L43.5,265.00 L44.0,265.00 L44.5,265.00 L45.0,265.00 L45.5,265.00 L46.0,265.00 L46.5,265.00 L47.0,265.00 L47.5,265.00 L48.0,265.00 L48.5,265.00 L49.0,265.00 L49.5,265.00 L50.0,265.00 L50.5,264.99 L51.0,264.91 L51.5,264.83 L52.0,264.75 L52.5,264.66 L53.0,264.56 L53.5,264.46 L54.0,264.35 L54.5,264.24 L55.0,264.12 L55.5,263.99 L56.0,263.87 L56.5,263.73 L57.0,263.59 L57.5,263.45 L58.0,263.30 L58.5,263.15 L59.0,262.99 L59.5,262.83 L60.0,262.66 L60.5,262.48 L61.0,262.31 L61.5,262.12 L62.0,261.94 L62.5,261.74 L63.0,261.54 L63.5,261.34 L64.0,261.14 L64.5,260.92 L65.0,260.71 L65.5,260.49 L66.0,260.26 L66.5,260.03 L67.0,259.79 L67.5,259.56 L68.0,259.31 L68.5,259.06 L69.0,258.81 L69.5,258.55 L70.0,258.29 L70.5,258.02 L71.0,257.75 L71.5,257.48 L72.0,257.20 L72.5,256.91 L73.0,256.63 L73.5,256.33 L74.0,256.04 L74.5,255.74 L75.0,255.43 L75.5,255.12 L76.0,254.81 L76.5,254.49 L77.0,254.17 L77.5,253.85 L78.0,253.52 L78.5,253.19 L79.0,252.85 L79.5,252.51 L80.0,252.17 L80.5,251.82 L81.0,251.47 L81.5,251.12 L82.0,250.76 L82.5,250.40 L83.0,250.03 L83.5,249.67 L84.0,249.29 L84.5,248.92 L85.0,248.54 L85.5,248.16 L86.0,247.78 L86.5,247.39 L87.0,247.00 L87.5,246.61 L88.0,246.22 L88.5,245.82 L89.0,245.42 L89.5,245.02 L90.0,244.61 L90.5,244.20 L91.0,243.79 L91.5,243.38 L92.0,242.96 L92.5,242.55 L93.0,242.13 L93.5,241.70 L94.0,241.28 L94.5,240.85 L95.0,240.42 L95.5,239.99 L96.0,239.56 L96.5,239.13 L97.0,238.69 L97.5,238.25 L98.0,237.81 L98.5,237.37 L99.0,236.93 L99.5,236.48 L100.0,236.03 L100.5,235.59 L101.0,235.14 L101.5,234.69 L102.0,234.23 L102.5,233.78 L103.0,233.33 L103.5,232.87 L104.0,232.41 L104.5,231.95 L105.0,231.50 L105.5,231.04 L106.0,230.58 L106.5,230.11 L107.0,229.65 L107.5,229.19 L108.0,228.73 L108.5,228.26 L109.0,227.80 L109.5,227.34 L110.0,226.87 L110.5,226.41 L111.0,225.94 L111.5,225.48 L112.0,225.01 L112.5,224.55 L113.0,224.08 L113.5,223.62 L114.0,223.15 L114.5,222.69 L115.0,222.23 L115.5,221.76 L116.0,221.30 L116.5,220.84 L117.0,220.38 L117.5,219.92 L118.0,219.46 L118.5,219.00 L119.0,218.54 L119.5,218.08 L120.0,217.62 L120.5,217.17 L121.0,216.71 L121.5,216.26 L122.0,215.81 L122.5,215.36 L123.0,214.91 L123.5,214.46 L124.0,214.02 L124.5,213.57 L125.0,213.13 L125.5,212.69 L126.0,212.25 L126.5,211.81 L127.0,211.37 L127.5,210.94 L128.0,210.51 L128.5,210.08 L129.0,209.65 L129.5,209.22 L130.0,208.80 L130.5,208.38 L131.0,207.96 L131.5,207.54 L132.0,207.12 L132.5,206.71 L133.0,206.30 L133.5,205.89 L134.0,205.48 L134.5,205.08 L135.0,204.68 L135.5,204.28 L136.0,203.89 L136.5,203.49 L137.0,203.10 L137.5,202.71 L138.0,202.33 L138.5,201.95 L139.0,201.57 L139.5,201.19 L140.0,200.82 L140.5,200.45 L141.0,200.08 L141.5,199.71 L142.0,199.35 L142.5,198.99 L143.0,198.64 L143.5,198.29 L144.0,197.94 L144.5,197.59 L145.0,197.25 L145.5,196.91 L146.0,196.58 L146.5,196.24 L147.0,195.92 L147.5,195.59 L148.0,195.27 L148.5,194.95 L149.0,194.64 L149.5,194.33 L150.0,194.02 L150.5,193.72 L151.0,193.42 L151.5,193.13 L152.0,192.84 L152.5,192.55 L153.0,192.26 L153.5,191.98 L154.0,191.71 L154.5,191.43 L155.0,191.16 L155.5,190.89 L156.0,190.63 L156.5,190.37 L157.0,190.11 L157.5,189.86 L158.0,189.61 L158.5,189.36 L159.0,189.11 L159.5,188.87 L160.0,188.63 L160.5,188.40 L161.0,188.16 L161.5,187.93 L162.0,187.70 L162.5,187.48 L163.0,187.26 L163.5,187.04 L164.0,186.82 L164.5,186.60 L165.0,186.39 L165.5,186.18 L166.0,185.98 L166.5,185.77 L167.0,185.57 L167.5,185.37 L168.0,185.17 L168.5,184.97 L169.0,184.78 L169.5,184.59 L170.0,184.40 L170.5,184.21 L171.0,184.03 L171.5,183.85 L172.0,183.66 L172.5,183.49 L173.0,183.31 L173.5,183.13 L174.0,182.96 L174.5,182.79 L175.0,182.62 L175.5,182.45 L176.0,182.28 L176.5,182.11 L177.0,181.95 L177.5,181.79 L178.0,181.63 L178.5,181.47 L179.0,181.31 L179.5,181.15 L180.0,180.99 L180.5,180.84 L181.0,180.69 L181.5,180.53 L182.0,180.38 L182.5,180.23 L183.0,180.08 L183.5,179.94 L184.0,179.79 L184.5,179.64 L185.0,179.50 L185.5,179.35 L186.0,179.21 L186.5,179.07 L187.0,178.93 L187.5,178.79 L188.0,178.65 L188.5,178.52 L189.0,178.38 L189.5,178.24 L190.0,178.11 L190.5,177.98 L191.0,177.85 L191.5,177.72 L192.0,177.59 L192.5,177.46 L193.0,177.33 L193.5,177.20 L194.0,177.08 L194.5,176.95 L195.0,176.83 L195.5,176.70 L196.0,176.58 L196.5,176.46 L197.0,176.34 L197.5,176.22 L198.0,176.10 L198.5,175.98 L199.0,175.87 L199.5,175.75 L200.0,175.64 L200.5,175.52 L201.0,175.41 L201.5,175.30 L202.0,175.19 L202.5,175.08 L203.0,174.97 L203.5,174.86 L204.0,174.75 L204.5,174.64 L205.0,174.54 L205.5,174.43 L206.0,174.33 L206.5,174.22 L207.0,174.12 L207.5,174.02 L208.0,173.92 L208.5,173.82 L209.0,173.72 L209.5,173.62 L210.0,173.52 L210.5,173.42 L211.0,173.33 L211.5,173.23 L212.0,173.13 L212.5,173.04 L213.0,172.95 L213.5,172.85 L214.0,172.76 L214.5,172.67 L215.0,172.58 L215.5,172.49 L216.0,172.40 L216.5,172.31 L217.0,172.22 L217.5,172.13 L218.0,172.04 L218.5,171.96 L219.0,171.87 L219.5,171.79 L220.0,171.70 L220.5,171.62 L221.0,171.53 L221.5,171.45 L222.0,171.37 L222.5,171.29 L223.0,171.21 L223.5,171.13 L224.0,171.05 L224.5,170.97 L225.0,170.89 L225.5,170.81 L226.0,170.73 L226.5,170.66 L227.0,170.58 L227.5,170.50 L228.0,170.43 L228.5,170.35 L229.0,170.28 L229.5,170.20 L230.0,170.13 L230.5,170.06 L231.0,169.99 L231.5,169.91 L232.0,169.84 L232.5,169.77 L233.0,169.70 L233.5,169.63 L234.0,169.56 L234.5,169.50 L235.0,169.43 L235.5,169.36 L236.0,169.29 L236.5,169.23 L237.0,169.16 L237.5,169.09 L238.0,169.03 L238.5,168.96 L239.0,168.90 L239.5,168.84 L240.0,168.77 L240.5,168.71 L241.0,168.65 L241.5,168.59 L242.0,168.53 L242.5,168.47 L243.0,168.41 L243.5,168.35 L244.0,168.29 L244.5,168.23 L245.0,168.17 L245.5,168.11 L246.0,168.06 L246.5,168.00 L247.0,167.94 L247.5,167.89 L248.0,167.83 L248.5,167.78 L249.0,167.72 L249.5,167.67 L250.0,167.61 L250.5,167.56 L251.0,167.51 L251.5,167.46 L252.0,167.40 L252.5,167.35 L253.0,167.30 L253.5,167.25 L254.0,167.20 L254.5,167.15 L255.0,167.10 L255.5,167.05 L256.0,167.01 L256.5,166.96 L257.0,166.91 L257.5,166.86 L258.0,166.82 L258.5,166.77 L259.0,166.72 L259.5,166.68 L260.0,166.63 L260.5,166.59 L261.0,166.55 L261.5,166.50 L262.0,166.46 L262.5,166.42 L263.0,166.37 L263.5,166.33 L264.0,166.29 L264.5,166.25 L265.0,166.21 L265.5,166.17 L266.0,166.13 L266.5,166.09 L267.0,166.05 L267.5,166.01 L268.0,165.97 L268.5,165.93 L269.0,165.89 L269.5,165.85 L270.0,165.82 L270.5,165.78 L271.0,165.74 L271.5,165.71 L272.0,165.67 L272.5,165.64 L273.0,165.60 L273.5,165.57 L274.0,165.53 L274.5,165.50 L275.0,165.47 L275.5,165.43 L276.0,165.40 L276.5,165.37 L277.0,165.33 L277.5,165.30 L278.0,165.27 L278.5,165.24 L279.0,165.21 L279.5,165.18 L280.0,165.15 L280.5,165.12 L281.0,165.09 L281.5,165.06 L282.0,165.03 L282.5,165.00 L283.0,164.97 L283.5,164.95 L284.0,164.92 L284.5,164.89 L285.0,164.86 L285.5,164.84 L286.0,164.81 L286.5,164.78 L287.0,164.76 L287.5,164.73 L288.0,164.71 L288.5,164.68 L289.0,164.66 L289.5,164.63 L290.0,164.61 L290.5,164.59 L291.0,164.56 L291.5,164.54 L292.0,164.52 L292.5,164.49 L293.0,164.47 L293.5,164.45 L294.0,164.43 L294.5,164.41 L295.0,164.38 L295.5,164.36 L296.0,164.34 L296.5,164.32 L297.0,164.30 L297.5,164.28 L298.0,164.26 L298.5,164.24 L299.0,164.22 L299.5,164.20 L300.0,164.19 L300.5,164.17 L301.0,164.15 L301.5,164.13 L302.0,164.11 L302.5,164.10 L303.0,164.08 L303.5,164.06 L304.0,164.04 L304.5,164.03 L305.0,164.01 L305.5,164.00 L306.0,163.98 L306.5,163.96 L307.0,163.95 L307.5,163.93 L308.0,163.92 L308.5,163.90 L309.0,163.89 L309.5,163.87 L310.0,163.86 L310.5,163.85 L311.0,163.83 L311.5,163.82 L312.0,163.80 L312.5,163.79 L313.0,163.78 L313.5,163.77 L314.0,163.75 L314.5,163.74 L315.0,163.73 L315.5,163.72 L316.0,163.70 L316.5,163.69 L317.0,163.68 L317.5,163.67 L318.0,163.66 L318.5,163.65 L319.0,163.64 L319.5,163.62 L320.0,163.61 L320.5,163.60 L321.0,163.59 L321.5,163.58 L322.0,163.57 L322.5,163.56 L323.0,163.55 L323.5,163.54 L324.0,163.53 L324.5,163.53 L325.0,163.52 L325.5,163.51 L326.0,163.50 L326.5,163.49 L327.0,163.48 L327.5,163.47 L328.0,163.46 L328.5,163.46 L329.0,163.45 L329.5,163.44 L330.0,163.43 L330.5,163.43 L331.0,163.42 L331.5,163.41 L332.0,163.40 L332.5,163.40 L333.0,163.39 L333.5,163.38 L334.0,163.38 L334.5,163.37 L335.0,163.36 L335.5,163.36 L336.0,163.35 L336.5,163.34 L337.0,163.34 L337.5,163.33 L338.0,163.32 L338.5,163.32 L339.0,163.31 L339.5,163.31 L340.0,163.30 L340.5,163.29 L341.0,163.29 L341.5,163.28 L342.0,163.28 L342.5,163.27 L343.0,163.27 L343.5,163.26 L344.0,163.26 L344.5,163.25 L345.0,163.25 L345.5,163.24 L346.0,163.24 L346.5,163.23 L347.0,163.23 L347.5,163.22 L348.0,163.22 L348.5,163.21 L349.0,163.21 L349.5,163.20 L350.0,163.20 L350.5,163.19 L351.0,163.19 L351.5,163.19 L352.0,163.18 L352.5,163.18 L353.0,163.17 L353.5,163.17 L354.0,163.16 L354.5,163.16 L355.0,163.15 L355.5,163.15 L356.0,163.15 L356.5,163.14 L357.0,163.14 L357.5,163.13 L358.0,163.13 L358.5,163.12 L359.0,163.12 L359.5,163.12 L360.0,163.11 L360.5,163.11 L361.0,163.10 L361.5,163.10 L362.0,163.10 L362.5,163.09 L363.0,163.09 L363.5,163.08 L364.0,163.08 L364.5,163.07 L365.0,163.07 L365.5,163.06 L366.0,163.06 L366.5,163.06 L367.0,163.05 L367.5,163.05 L368.0,163.04 L368.5,163.04 L369.0,163.03 L369.5,163.03 L370.0,163.02 L370.5,163.02 L371.0,163.01 L371.5,163.01 L372.0,163.00 L372.5,163.00 L373.0,162.99 L373.5,162.99 L374.0,162.98 L374.5,162.98 L375.0,162.97 L375.5,162.97 L376.0,162.96 L376.5,162.96 L377.0,162.95 L377.5,162.95 L378.0,162.94 L378.5,162.93 L379.0,162.93 L379.5,162.92 L380.0,162.92 L380.5,162.91 L381.0,162.90 L381.5,162.90 L382.0,162.89 L382.5,162.89 L383.0,162.88 L383.5,162.87 L384.0,162.87 L384.5,162.86 L385.0,162.85 L385.5,162.84 L386.0,162.84 L386.5,162.83 L387.0,162.82 L387.5,162.82 L388.0,162.81 L388.5,162.80 L389.0,162.79 L389.5,162.78 L390.0,162.78 L390.5,162.77" fill="none" stroke="#00ff00" stroke-width="1.1"/>
<path d="M37.5,265.00 L38.0,265.00 L38.5,265.00 L39.0,265.00 L39.5,265.00 L40.0,265.00 L40.5,265.00 L41.0,265.00 L41.5,265.00 L42.0,265.00 L42.5,265.00 L43.0,265.00 L43.5,265.00 L44.0,265.00 L44.5,265.00 L45.0,265.00 L45.5,265.00 L46.0,265.00 L46.5,265.00 L47.0,265.00 L47.5,265.00 L48.0,265.00 L48.5,265.00 L49.0,265.00 L49.5,265.00 L50.0,265.00 L50.5,265.00 L51.0,265.00 L51.5,265.00 L52.0,265.00 L52.5,265.00 L53.0,265.00 L53.5,265.00 L54.0,265.00 L54.5,265.00 L55.0,265.00 L55.5,265.00 L56.0,265.00 L56.5,265.00 L57.0,265.00 L57.5,265.00 L58.0,265.00 L58.5,265.00 L59.0,265.00 L59.5,265.00 L60.0,265.00 L60.5,265.00 L61.0,265.00 L61.5,265.00 L62.0,265.00 L62.5,265.00 L63.0,265.00 L63.5,265.00 L64.0,265.00 L64.5,264.99 L65.0,264.96 L65.5,264.93 L66.0,264.89 L66.5,264.86 L67.0,264.82 L67.5,264.79 L68.0,264.75 L68.5,264.71 L69.0,264.67 L69.5,264.63 L70.0,264.59 L70.5,264.55 L71.0,264.51 L71.5,264.47 L72.0,264.42 L72.5,264.38 L73.0,264.33 L73.5,264.29 L74.0,264.24 L74.5,264.19 L75.0,264.14 L75.5,264.10 L76.0,264.05 L76.5,264.00 L77.0,263.95 L77.5,263.90 L78.0,263.84 L78.5,263.79 L79.0,263.74 L79.5,263.69 L80.0,263.63 L80.5,263.58 L81.0,263.52 L81.5,263.47 L82.0,263.41 L82.5,263.36 L83.0,263.30 L83.5,263.24 L84.0,263.19 L84.5,263.13 L85.0,263.07 L85.5,263.01 L86.0,262.95 L86.5,262.89 L87.0,262.83 L87.5,262.77 L88.0,262.71 L88.5,262.65 L89.0,262.59 L89.5,262.53 L90.0,262.47 L90.5,262.41 L91.0,262.34 L91.5,262.28 L92.0,262.22 L92.5,262.16 L93.0,262.09 L93.5,262.03 L94.0,261.97 L94.5,261.90 L95.0,261.84 L95.5,261.78 L96.0,261.71 L96.5,261.65 L97.0,261.59 L97.5,261.52 L98.0,261.46 L98.5,261.39 L99.0,261.33 L99.5,261.27 L100.0,261.20 L100.5,261.14 L101.0,261.07 L101.5,261.01 L102.0,260.95 L102.5,260.88 L103.0,260.82 L103.5,260.76 L104.0,260.69 L104.5,260.63 L105.0,260.57 L105.5,260.50 L106.0,260.44 L106.5,260.38 L107.0,260.31 L107.5,260.25 L108.0,260.19 L108.5,260.13 L109.0,260.07 L109.5,260.00 L110.0,259.94 L110.5,259.88 L111.0,259.82 L111.5,259.76 L112.0,259.70 L112.5,259.64 L113.0,259.58 L113.5,259.52 L114.0,259.47 L114.5,259.41 L115.0,259.35 L115.5,259.29 L116.0,259.23 L116.5,259.18 L117.0,259.12 L117.5,259.06 L118.0,259.01 L118.5,258.95 L119.0,258.90 L119.5,258.84 L120.0,258.79 L120.5,258.73 L121.0,258.68 L121.5,258.62 L122.0,258.57 L122.5,258.52 L123.0,258.47 L123.5,258.41 L124.0,258.36 L124.5,258.31 L125.0,258.26 L125.5,258.21 L126.0,258.16 L126.5,258.10 L127.0,258.05 L127.5,258.00 L128.0,257.95 L128.5,257.91 L129.0,257.86 L129.5,257.81 L130.0,257.76 L130.5,257.71 L131.0,257.66 L131.5,257.62 L132.0,257.57 L132.5,257.52 L133.0,257.48 L133.5,257.43 L134.0,257.38 L134.5,257.34 L135.0,257.29 L135.5,257.25 L136.0,257.20 L136.5,257.16 L137.0,257.12 L137.5,257.07 L138.0,257.03 L138.5,256.99 L139.0,256.94 L139.5,256.90 L140.0,256.86 L140.5,256.82 L141.0,256.77 L141.5,256.73 L142.0,256.69 L142.5,256.65 L143.0,256.61 L143.5,256.57 L144.0,256.53 L144.5,256.49 L145.0,256.45 L145.5,256.41 L146.0,256.38 L146.5,256.34 L147.0,256.30 L147.5,256.26 L148.0,256.22 L148.5,256.19 L149.0,256.15 L149.5,256.11 L150.0,256.08 L150.5,256.04 L151.0,256.01 L151.5,255.97 L152.0,255.94 L152.5,255.90 L153.0,255.87 L153.5,255.83 L154.0,255.80 L154.5,255.77 L155.0,255.73 L155.5,255.70 L156.0,255.67 L156.5,255.63 L157.0,255.60 L157.5,255.57 L158.0,255.54 L158.5,255.51 L159.0,255.48 L159.5,255.45 L160.0,255.42 L160.5,255.39 L161.0,255.36 L161.5,255.33 L162.0,255.30 L162.5,255.27 L163.0,255.24 L163.5,255.21 L164.0,255.18 L164.5,255.16 L165.0,255.13 L165.5,255.10 L166.0,255.07 L166.5,255.05 L167.0,255.02 L167.5,255.00 L168.0,254.97 L168.5,254.94 L169.0,254.92 L169.5,254.89 L170.0,254.87 L170.5,254.84 L171.0,254.82 L171.5,254.80 L172.0,254.77 L172.5,254.75 L173.0,254.73 L173.5,254.70 L174.0,254.68 L174.5,254.66 L175.0,254.64 L175.5,254.62 L176.0,254.59 L176.5,254.57 L177.0,254.55 L177.5,254.53 L178.0,254.51 L178.5,254.49 L179.0,254.47 L179.5,254.45 L180.0,254.43 L180.5,254.41 L181.0,254.39 L181.5,254.38 L182.0,254.36 L182.5,254.34 L183.0,254.32 L183.5,254.30 L184.0,254.29 L184.5,254.27 L185.0,254.25 L185.5,254.24 L186.0,254.22 L186.5,254.20 L187.0,254.19 L187.5,254.17 L188.0,254.16 L188.5,254.14 L189.0,254.12 L189.5,254.11 L190.0,254.10 L190.5,254.08 L191.0,254.07 L191.5,254.05 L192.0,254.04 L192.5,254.03 L193.0,254.01 L193.5,254.00 L194.0,253.99 L194.5,253.97 L195.0,253.96 L195.5,253.95 L196.0,253.94 L196.5,253.92 L197.0,253.91 L197.5,253.90 L198.0,253.89 L198.5,253.88 L199.0,253.87 L199.5,253.86 L200.0,253.84 L200.5,253.83 L201.0,253.82 L201.5,253.81 L202.0,253.80 L202.5,253.79 L203.0,253.78 L203.5,253.77 L204.0,253.77 L204.5,253.76 L205.0,253.75 L205.5,253.74 L206.0,253.73 L206.5,253.72 L207.0,253.71 L207.5,253.70 L208.0,253.70 L208.5,253.69 L209.0,253.68 L209.5,253.67 L210.0,253.66 L210.5,253.66 L211.0,253.65 L211.5,253.64 L212.0,253.64 L212.5,253.63 L213.0,253.62 L213.5,253.62 L214.0,253.61 L214.5,253.60 L215.0,253.60 L215.5,253.59 L216.0,253.58 L216.5,253.58 L217.0,253.57 L217.5,253.57 L218.0,253.56 L218.5,253.56 L219.0,253.55 L219.5,253.55 L220.0,253.54 L220.5,253.54 L221.0,253.53 L221.5,253.53 L222.0,253.52 L222.5,253.52 L223.0,253.51 L223.5,253.51 L224.0,253.50 L224.5,253.50 L225.0,253.49 L225.5,253.49 L226.0,253.49 L226.5,253.48 L227.0,253.48 L227.5,253.47 L228.0,253.47 L228.5,253.47 L229.0,253.46 L229.5,253.46 L230.0,253.46 L230.5,253.45 L231.0,253.45 L231.5,253.45 L232.0,253.44 L232.5,253.44 L233.0,253.44 L233.5,253.43 L234.0,253.43 L234.5,253.43 L235.0,253.43 L235.5,253.42 L236.0,253.42 L236.5,253.42 L237.0,253.41 L237.5,253.41 L238.0,253.41 L238.5,253.41 L239.0,253.40 L239.5,253.40 L240.0,253.40 L240.5,253.40 L241.0,253.39 L241.5,253.39 L242.0,253.39 L242.5,253.39 L243.0,253.38 L243.5,253.38 L244.0,253.38 L244.5,253.38 L245.0,253.37 L245.5,253.37 L246.0,253.37 L246.5,253.37 L247.0,253.37 L247.5,253.36 L248.0,253.36 L248.5,253.36 L249.0,253.36 L249.5,253.35 L250.0,253.35 L250.5,253.35 L251.0,253.35 L251.5,253.34 L252.0,253.34 L252.5,253.34 L253.0,253.34 L253.5,253.33 L254.0,253.33 L254.5,253.33 L255.0,253.33 L255.5,253.32 L256.0,253.32 L256.5,253.32 L257.0,253.32 L257.5,253.31 L258.0,253.31 L258.5,253.31 L259.0,253.31 L259.5,253.30 L260.0,253.30 L260.5,253.30 L261.0,253.29 L261.5,253.29 L262.0,253.29 L262.5,253.28 L263.0,253.28 L263.5,253.28 L264.0,253.27 L264.5,253.27 L265.0,253.27 L265.5,253.26 L266.0,253.26 L266.5,253.26 L267.0,253.25 L267.5,253.25 L268.0,253.25 L268.5,253.24 L269.0,253.24 L269.5,253.23 L270.0,253.23 L270.5,253.23 L271.0,253.22 L271.5,253.22 L272.0,253.21 L272.5,253.21 L273.0,253.20 L273.5,253.20 L274.0,253.20 L274.5,253.19 L275.0,253.19 L275.5,253.18 L276.0,253.18 L276.5,253.17 L277.0,253.17 L277.5,253.16 L278.0,253.16 L278.5,253.16 L279.0,253.15 L279.5,253.15 L280.0,253.14 L280.5,253.14 L281.0,253.13 L281.5,253.13 L282.0,253.12 L282.5,253.12 L283.0,253.11 L283.5,253.11 L284.0,253.10 L284.5,253.10 L285.0,253.09 L285.5,253.09 L286.0,253.08 L286.5,253.08 L287.0,253.07 L287.5,253.07 L288.0,253.06 L288.5,253.06 L289.0,253.05 L289.5,253.04 L290.0,253.04 L290.5,253.03 L291.0,253.03 L291.5,253.02 L292.0,253.02 L292.5,253.01 L293.0,253.01 L293.5,253.00 L294.0,253.00 L294.5,252.99 L295.0,252.99 L295.5,252.98 L296.0,252.97 L296.5,252.97 L297.0,252.96 L297.5,252.96 L298.0,252.95 L298.5,252.95 L299.0,252.94 L299.5,252.94 L300.0,252.93 L300.5,252.92 L301.0,252.92 L301.5,252.91 L302.0,252.91 L302.5,252.90 L303.0,252.90 L303.5,252.89 L304.0,252.89 L304.5,252.88 L305.0,252.87 L305.5,252.87 L306.0,252.86 L306.5,252.86 L307.0,252.85 L307.5,252.85 L308.0,252.84 L308.5,252.84 L309.0,252.83 L309.5,252.82 L310.0,252.82 L310.5,252.81 L311.0,252.81 L311.5,252.80 L312.0,252.80 L312.5,252.79 L313.0,252.79 L313.5,252.78 L314.0,252.77 L314.5,252.77 L315.0,252.76 L315.5,252.76 L316.0,252.75 L316.5,252.75 L317.0,252.74 L317.5,252.74 L318.0,252.73 L318.5,252.73 L319.0,252.72 L319.5,252.72 L320.0,252.71 L320.5,252.71 L321.0,252.70 L321.5,252.69 L322.0,252.69 L322.5,252.68 L323.0,252.68 L323.5,252.67 L324.0,252.67 L324.5,252.66 L325.0,252.66 L325.5,252.65 L326.0,252.65 L326.5,252.64 L327.0,252.64 L327.5,252.63 L328.0,252.63 L328.5,252.62 L329.0,252.62 L329.5,252.61 L330.0,252.61 L330.5,252.61 L331.0,252.60 L331.5,252.60 L332.0,252.59 L332.5,252.59 L333.0,252.58 L333.5,252.58 L334.0,252.57 L334.5,252.57 L335.0,252.56 L335.5,252.56 L336.0,252.56 L336.5,252.55 L337.0,252.55 L337.5,252.54 L338.0,252.54 L338.5,252.53 L339.0,252.53 L339.5,252.53 L340.0,252.52 L340.5,252.52 L341.0,252.52 L341.5,252.51 L342.0,252.51 L342.5,252.50 L343.0,252.50 L343.5,252.50 L344.0,252.49 L344.5,252.49 L345.0,252.49 L345.5,252.48 L346.0,252.48 L346.5,252.48 L347.0,252.47 L347.5,252.47 L348.0,252.47 L348.5,252.46 L349.0,252.46 L349.5,252.46 L350.0,252.45 L350.5,252.45 L351.0,252.45 L351.5,252.45 L352.0,252.44 L352.5,252.44 L353.0,252.44 L353.5,252.44 L354.0,252.43 L354.5,252.43 L355.0,252.43 L355.5,252.43 L356.0,252.43 L356.5,252.42 L357.0,252.42 L357.5,252.42 L358.0,252.42 L358.5,252.42 L359.0,252.41 L359.5,252.41 L360.0,252.41 L360.5,252.41 L361.0,252.41 L361.5,252.41 L362.0,252.41 L362.5,252.40 L363.0,252.40 L363.5,252.40 L364.0,252.40 L364.5,252.40 L365.0,252.40 L365.5,252.40 L366.0,252.40 L366.5,252.40 L367.0,252.40 L367.5,252.40 L368.0,252.40 L368.5,252.40 L369.0,252.40 L369.5,252.40 L370.0,252.40 L370.5,252.40 L371.0,252.40 L371.5,252.40 L372.0,252.40 L372.5,252.40 L373.0,252.40 L373.5,252.40 L374.0,252.40 L374.5,252.40 L375.0,252.40 L375.5,252.40 L376.0,252.40 L376.5,252.41 L377.0,252.41 L377.5,252.41 L378.0,252.41 L378.5,252.41 L379.0,252.41 L379.5,252.42 L380.0,252.42 L380.5,252.42 L381.0,252.42 L381.5,252.42 L382.0,252.43 L382.5,252.43 L383.0,252.43 L383.5,252.43 L384.0,252.44 L384.5,252.44 L385.0,252.44 L385.5,252.44 L386.0,252.45 L386.5,252.45 L387.0,252.45 L387.5,252.46 L388.0,252.46 L388.5,252.47 L389.0,252.47 L389.5,252.47 L390.0,252.48 L390.5,252.48" fill="none" stroke="#670748" stroke-width="1.05"/>
<path d="M37.5,265.00 L38.0,265.00 L38.5,265.00 L39.0,265.00 L39.5,265.00 L40.0,265.00 L40.5,265.00 L41.0,265.00 L41.5,265.00 L42.0,265.00 L42.5,265.00 L43.0,265.00 L43.5,265.00 L44.0,265.00 L44.5,265.00 L45.0,264.99 L45.5,264.95 L46.0,264.90 L46.5,264.85 L47.0,264.79 L47.5,264.72 L48.0,264.65 L48.5,264.57 L49.0,264.48 L49.5,264.39 L50.0,264.29 L50.5,264.19 L51.0,264.07 L51.5,263.95 L52.0,263.82 L52.5,263.69 L53.0,263.55 L53.5,263.40 L54.0,263.24 L54.5,263.07 L55.0,262.90 L55.5,262.72 L56.0,262.53 L56.5,262.33 L57.0,262.13 L57.5,261.91 L58.0,261.69 L58.5,261.46 L59.0,261.22 L59.5,260.97 L60.0,260.71 L60.5,260.44 L61.0,260.17 L61.5,259.88 L62.0,259.58 L62.5,259.28 L63.0,258.96 L63.5,258.64 L64.0,258.31 L64.5,257.96 L65.0,257.61 L65.5,257.24 L66.0,256.87 L66.5,256.48 L67.0,256.08 L67.5,255.68 L68.0,255.26 L68.5,254.83 L69.0,254.39 L69.5,253.94 L70.0,253.48 L70.5,253.00 L71.0,252.52 L71.5,252.03 L72.0,251.53 L72.5,251.01 L73.0,250.49 L73.5,249.96 L74.0,249.41 L74.5,248.86 L75.0,248.30 L75.5,247.72 L76.0,247.14 L76.5,246.55 L77.0,245.95 L77.5,245.34 L78.0,244.72 L78.5,244.10 L79.0,243.46 L79.5,242.82 L80.0,242.17 L80.5,241.50 L81.0,240.83 L81.5,240.16 L82.0,239.47 L82.5,238.78 L83.0,238.08 L83.5,237.37 L84.0,236.65 L84.5,235.93 L85.0,235.19 L85.5,234.46 L86.0,233.71 L86.5,232.96 L87.0,232.20 L87.5,231.43 L88.0,230.65 L88.5,229.87 L89.0,229.09 L89.5,228.29 L90.0,227.49 L90.5,226.69 L91.0,225.88 L91.5,225.06 L92.0,224.23 L92.5,223.40 L93.0,222.57 L93.5,221.73 L94.0,220.88 L94.5,220.03 L95.0,219.18 L95.5,218.32 L96.0,217.45 L96.5,216.59 L97.0,215.72 L97.5,214.84 L98.0,213.97 L98.5,213.09 L99.0,212.21 L99.5,211.33 L100.0,210.45 L100.5,209.57 L101.0,208.69 L101.5,207.81 L102.0,206.93 L102.5,206.05 L103.0,205.17 L103.5,204.29 L104.0,203.42 L104.5,202.54 L105.0,201.67 L105.5,200.81 L106.0,199.94 L106.5,199.08 L107.0,198.23 L107.5,197.38 L108.0,196.53 L108.5,195.68 L109.0,194.84 L109.5,194.00 L110.0,193.17 L110.5,192.33 L111.0,191.51 L111.5,190.68 L112.0,189.86 L112.5,189.04 L113.0,188.23 L113.5,187.42 L114.0,186.61 L114.5,185.81 L115.0,185.01 L115.5,184.21 L116.0,183.41 L116.5,182.62 L117.0,181.84 L117.5,181.06 L118.0,180.28 L118.5,179.50 L119.0,178.73 L119.5,177.96 L120.0,177.20 L120.5,176.44 L121.0,175.68 L121.5,174.93 L122.0,174.18 L122.5,173.44 L123.0,172.70 L123.5,171.96 L124.0,171.23 L124.5,170.51 L125.0,169.78 L125.5,169.06 L126.0,168.35 L126.5,167.64 L127.0,166.94 L127.5,166.24 L128.0,165.54 L128.5,164.85 L129.0,164.17 L129.5,163.49 L130.0,162.82 L130.5,162.15 L131.0,161.49 L131.5,160.83 L132.0,160.18 L132.5,159.54 L133.0,158.90 L133.5,158.27 L134.0,157.65 L134.5,157.03 L135.0,156.42 L135.5,155.81 L136.0,155.21 L136.5,154.62 L137.0,154.04 L137.5,153.46 L138.0,152.89 L138.5,152.33 L139.0,151.78 L139.5,151.23 L140.0,150.69 L140.5,150.16 L141.0,149.64 L141.5,149.13 L142.0,148.62 L142.5,148.13 L143.0,147.64 L143.5,147.16 L144.0,146.69 L144.5,146.22 L145.0,145.77 L145.5,145.33 L146.0,144.89 L146.5,144.47 L147.0,144.05 L147.5,143.65 L148.0,143.25 L148.5,142.86 L149.0,142.49 L149.5,142.12 L150.0,141.76 L150.5,141.42 L151.0,141.08 L151.5,140.75 L152.0,140.44 L152.5,140.13 L153.0,139.83 L153.5,139.54 L154.0,139.26 L154.5,138.99 L155.0,138.73 L155.5,138.48 L156.0,138.24 L156.5,138.00 L157.0,137.77 L157.5,137.55 L158.0,137.34 L158.5,137.14 L159.0,136.94 L159.5,136.76 L160.0,136.58 L160.5,136.40 L161.0,136.24 L161.5,136.08 L162.0,135.93 L162.5,135.78 L163.0,135.65 L163.5,135.51 L164.0,135.39 L164.5,135.27 L165.0,135.16 L165.5,135.05 L166.0,134.95 L166.5,134.86 L167.0,134.77 L167.5,134.68 L168.0,134.61 L168.5,134.53 L169.0,134.47 L169.5,134.40 L170.0,134.35 L170.5,134.29 L171.0,134.24 L171.5,134.20 L172.0,134.16 L172.5,134.12 L173.0,134.09 L173.5,134.06 L174.0,134.04 L174.5,134.02 L175.0,134.00 L175.5,133.99 L176.0,133.98 L176.5,133.97 L177.0,133.96 L177.5,133.96 L178.0,133.96 L178.5,133.97 L179.0,133.97 L179.5,133.98 L180.0,133.99 L180.5,134.00 L181.0,134.02 L181.5,134.03 L182.0,134.05 L182.5,134.07 L183.0,134.09 L183.5,134.12 L184.0,134.14 L184.5,134.17 L185.0,134.19 L185.5,134.22 L186.0,134.25 L186.5,134.29 L187.0,134.32 L187.5,134.36 L188.0,134.39 L188.5,134.43 L189.0,134.47 L189.5,134.51 L190.0,134.55 L190.5,134.60 L191.0,134.64 L191.5,134.69 L192.0,134.74 L192.5,134.79 L193.0,134.84 L193.5,134.89 L194.0,134.94 L194.5,134.99 L195.0,135.05 L195.5,135.10 L196.0,135.16 L196.5,135.22 L197.0,135.27 L197.5,135.33 L198.0,135.40 L198.5,135.46 L199.0,135.52 L199.5,135.58 L200.0,135.65 L200.5,135.71 L201.0,135.78 L201.5,135.84 L202.0,135.91 L202.5,135.98 L203.0,136.05 L203.5,136.12 L204.0,136.19 L204.5,136.26 L205.0,136.33 L205.5,136.40 L206.0,136.47 L206.5,136.54 L207.0,136.62 L207.5,136.69 L208.0,136.76 L208.5,136.84 L209.0,136.91 L209.5,136.99 L210.0,137.06 L210.5,137.14 L211.0,137.21 L211.5,137.29 L212.0,137.37 L212.5,137.44 L213.0,137.52 L213.5,137.60 L214.0,137.67 L214.5,137.75 L215.0,137.83 L215.5,137.91 L216.0,137.98 L216.5,138.06 L217.0,138.14 L217.5,138.21 L218.0,138.29 L218.5,138.37 L219.0,138.45 L219.5,138.52 L220.0,138.60 L220.5,138.67 L221.0,138.75 L221.5,138.83 L222.0,138.90 L222.5,138.98 L223.0,139.05 L223.5,139.13 L224.0,139.20 L224.5,139.27 L225.0,139.35 L225.5,139.42 L226.0,139.49 L226.5,139.56 L227.0,139.64 L227.5,139.71 L228.0,139.78 L228.5,139.85 L229.0,139.92 L229.5,139.99 L230.0,140.05 L230.5,140.12 L231.0,140.19 L231.5,140.26 L232.0,140.33 L232.5,140.39 L233.0,140.46 L233.5,140.52 L234.0,140.59 L234.5,140.65 L235.0,140.72 L235.5,140.78 L236.0,140.85 L236.5,140.91 L237.0,140.97 L237.5,141.04 L238.0,141.10 L238.5,141.16 L239.0,141.22 L239.5,141.28 L240.0,141.34 L240.5,141.40 L241.0,141.46 L241.5,141.52 L242.0,141.58 L242.5,141.64 L243.0,141.70 L243.5,141.75 L244.0,141.81 L244.5,141.87 L245.0,141.92 L245.5,141.98 L246.0,142.04 L246.5,142.09 L247.0,142.15 L247.5,142.20 L248.0,142.26 L248.5,142.31 L249.0,142.36 L249.5,142.42 L250.0,142.47 L250.5,142.52 L251.0,142.57 L251.5,142.62 L252.0,142.68 L252.5,142.73 L253.0,142.78 L253.5,142.83 L254.0,142.88 L254.5,142.93 L255.0,142.98 L255.5,143.02 L256.0,143.07 L256.5,143.12 L257.0,143.17 L257.5,143.22 L258.0,143.26 L258.5,143.31 L259.0,143.35 L259.5,143.40 L260.0,143.45 L260.5,143.49 L261.0,143.54 L261.5,143.58 L262.0,143.62 L262.5,143.67 L263.0,143.71 L263.5,143.75 L264.0,143.80 L264.5,143.84 L265.0,143.88 L265.5,143.92 L266.0,143.97 L266.5,144.01 L267.0,144.05 L267.5,144.09 L268.0,144.13 L268.5,144.17 L269.0,144.21 L269.5,144.25 L270.0,144.29 L270.5,144.32 L271.0,144.36 L271.5,144.40 L272.0,144.44 L272.5,144.47 L273.0,144.51 L273.5,144.55 L274.0,144.58 L274.5,144.62 L275.0,144.66 L275.5,144.69 L276.0,144.73 L276.5,144.76 L277.0,144.80 L277.5,144.83 L278.0,144.86 L278.5,144.90 L279.0,144.93 L279.5,144.96 L280.0,145.00 L280.5,145.03 L281.0,145.06 L281.5,145.09 L282.0,145.13 L282.5,145.16 L283.0,145.19 L283.5,145.22 L284.0,145.25 L284.5,145.28 L285.0,145.31 L285.5,145.34 L286.0,145.37 L286.5,145.40 L287.0,145.43 L287.5,145.46 L288.0,145.48 L288.5,145.51 L289.0,145.54 L289.5,145.57 L290.0,145.59 L290.5,145.62 L291.0,145.65 L291.5,145.67 L292.0,145.70 L292.5,145.73 L293.0,145.75 L293.5,145.78 L294.0,145.80 L294.5,145.83 L295.0,145.85 L295.5,145.88 L296.0,145.90 L296.5,145.93 L297.0,145.95 L297.5,145.97 L298.0,146.00 L298.5,146.02 L299.0,146.04 L299.5,146.06 L300.0,146.09 L300.5,146.11 L301.0,146.13 L301.5,146.15 L302.0,146.17 L302.5,146.20 L303.0,146.22 L303.5,146.24 L304.0,146.26 L304.5,146.28 L305.0,146.30 L305.5,146.32 L306.0,146.34 L306.5,146.36 L307.0,146.38 L307.5,146.39 L308.0,146.41 L308.5,146.43 L309.0,146.45 L309.5,146.47 L310.0,146.49 L310.5,146.50 L311.0,146.52 L311.5,146.54 L312.0,146.56 L312.5,146.57 L313.0,146.59 L313.5,146.61 L314.0,146.62 L314.5,146.64 L315.0,146.66 L315.5,146.67 L316.0,146.69 L316.5,146.70 L317.0,146.72 L317.5,146.73 L318.0,146.75 L318.5,146.76 L319.0,146.78 L319.5,146.79 L320.0,146.80 L320.5,146.82 L321.0,146.83 L321.5,146.85 L322.0,146.86 L322.5,146.87 L323.0,146.89 L323.5,146.90 L324.0,146.91 L324.5,146.92 L325.0,146.94 L325.5,146.95 L326.0,146.96 L326.5,146.97 L327.0,146.98 L327.5,147.00 L328.0,147.01 L328.5,147.02 L329.0,147.03 L329.5,147.04 L330.0,147.05 L330.5,147.06 L331.0,147.07 L331.5,147.08 L332.0,147.09 L332.5,147.10 L333.0,147.11 L333.5,147.12 L334.0,147.13 L334.5,147.14 L335.0,147.15 L335.5,147.16 L336.0,147.17 L336.5,147.18 L337.0,147.19 L337.5,147.20 L338.0,147.21 L338.5,147.22 L339.0,147.22 L339.5,147.23 L340.0,147.24 L340.5,147.25 L341.0,147.26 L341.5,147.27 L342.0,147.27 L342.5,147.28 L343.0,147.29 L343.5,147.30 L344.0,147.30 L344.5,147.31 L345.0,147.32 L345.5,147.32 L346.0,147.33 L346.5,147.34 L347.0,147.34 L347.5,147.35 L348.0,147.36 L348.5,147.36 L349.0,147.37 L349.5,147.38 L350.0,147.38 L350.5,147.39 L351.0,147.39 L351.5,147.40 L352.0,147.41 L352.5,147.41 L353.0,147.42 L353.5,147.42 L354.0,147.43 L354.5,147.43 L355.0,147.44 L355.5,147.44 L356.0,147.45 L356.5,147.45 L357.0,147.46 L357.5,147.46 L358.0,147.47 L358.5,147.47 L359.0,147.48 L359.5,147.48 L360.0,147.49 L360.5,147.49 L361.0,147.50 L361.5,147.50 L362.0,147.51 L362.5,147.51 L363.0,147.51 L363.5,147.52 L364.0,147.52 L364.5,147.53 L365.0,147.53 L365.5,147.53 L366.0,147.54 L366.5,147.54 L367.0,147.55 L367.5,147.55 L368.0,147.55 L368.5,147.56 L369.0,147.56 L369.5,147.56 L370.0,147.57 L370.5,147.57 L371.0,147.57 L371.5,147.58 L372.0,147.58 L372.5,147.59 L373.0,147.59 L373.5,147.59 L374.0,147.60 L374.5,147.60 L375.0,147.60 L375.5,147.61 L376.0,147.61 L376.5,147.61 L377.0,147.61 L377.5,147.62 L378.0,147.62 L378.5,147.62 L379.0,147.63 L379.5,147.63 L380.0,147.63 L380.5,147.64 L381.0,147.64 L381.5,147.64 L382.0,147.65 L382.5,147.65 L383.0,147.65 L383.5,147.66 L384.0,147.66 L384.5,147.66 L385.0,147.67 L385.5,147.67 L386.0,147.67 L386.5,147.68 L387.0,147.68 L387.5,147.68 L388.0,147.68 L388.5,147.69 L389.0,147.69 L389.5,147.69 L390.0,147.70 L390.5,147.70" fill="none" stroke="#0000ff" stroke-width="1.7"/>
</g>
<path d="M37.5,265.5V46.5H390.5V265.5M37.0,265.0H391.0" fill="none" stroke="#000" stroke-width="1"/>
<path d="M37.5,258.17h3.3M390.5,258.17h-3.3M37.5,251.34h3.3M390.5,251.34h-3.3M37.5,244.52h3.3M390.5,244.52h-3.3M37.5,237.69h6.3M390.5,237.69h-6.3M37.5,230.86h3.3M390.5,230.86h-3.3M37.5,224.03h3.3M390.5,224.03h-3.3M37.5,217.20h3.3M390.5,217.20h-3.3M37.5,210.38h6.3M390.5,210.38h-6.3M37.5,203.55h3.3M390.5,203.55h-3.3M37.5,196.72h3.3M390.5,196.72h-3.3M37.5,189.89h3.3M390.5,189.89h-3.3M37.5,183.06h6.3M390.5,183.06h-6.3M37.5,176.23h3.3M390.5,176.23h-3.3M37.5,169.41h3.3M390.5,169.41h-3.3M37.5,162.58h3.3M390.5,162.58h-3.3M37.5,155.75h6.3M390.5,155.75h-6.3M37.5,148.92h3.3M390.5,148.92h-3.3M37.5,142.09h3.3M390.5,142.09h-3.3M37.5,135.27h3.3M390.5,135.27h-3.3M37.5,128.44h6.3M390.5,128.44h-6.3M37.5,121.61h3.3M390.5,121.61h-3.3M37.5,114.78h3.3M390.5,114.78h-3.3M37.5,107.95h3.3M390.5,107.95h-3.3M37.5,101.12h6.3M390.5,101.12h-6.3M37.5,94.30h3.3M390.5,94.30h-3.3M37.5,87.47h3.3M390.5,87.47h-3.3M37.5,80.64h3.3M390.5,80.64h-3.3M37.5,73.81h6.3M390.5,73.81h-6.3M37.5,66.98h3.3M390.5,66.98h-3.3M37.5,60.16h3.3M390.5,60.16h-3.3M37.5,53.33h3.3M390.5,53.33h-3.3M72.92,265.0v-3.3M72.92,46.5v3.3M93.64,265.0v-3.3M93.64,46.5v3.3M108.34,265.0v-3.3M108.34,46.5v3.3M119.75,265.0v-3.3M119.75,46.5v3.3M129.06,265.0v-3.3M129.06,46.5v3.3M136.94,265.0v-3.3M136.94,46.5v3.3M143.76,265.0v-3.3M143.76,46.5v3.3M149.78,265.0v-3.3M149.78,46.5v3.3M155.17,265.0v-6.3M155.17,46.5v6.3M190.59,265.0v-3.3M190.59,46.5v3.3M211.31,265.0v-3.3M211.31,46.5v3.3M226.01,265.0v-3.3M226.01,46.5v3.3M237.41,265.0v-3.3M237.41,46.5v3.3M246.73,265.0v-3.3M246.73,46.5v3.3M254.61,265.0v-3.3M254.61,46.5v3.3M261.43,265.0v-3.3M261.43,46.5v3.3M267.45,265.0v-3.3M267.45,46.5v3.3M272.83,265.0v-6.3M272.83,46.5v6.3M308.25,265.0v-3.3M308.25,46.5v3.3M328.97,265.0v-3.3M328.97,46.5v3.3M343.68,265.0v-3.3M343.68,46.5v3.3M355.08,265.0v-3.3M355.08,46.5v3.3M364.40,265.0v-3.3M364.40,46.5v3.3M372.27,265.0v-3.3M372.27,46.5v3.3M379.10,265.0v-3.3M379.10,46.5v3.3M385.12,265.0v-3.3M385.12,46.5v3.3" stroke="#000" stroke-width="0.85" fill="none"/>
<text x="34.6" y="269.00" font-size="13.4" text-anchor="end">0</text>
<text x="34.6" y="241.69" font-size="13.4" text-anchor="end">2</text>
<text x="34.6" y="214.38" font-size="13.4" text-anchor="end">4</text>
<text x="34.6" y="187.06" font-size="13.4" text-anchor="end">6</text>
<text x="34.6" y="159.75" font-size="13.4" text-anchor="end">8</text>
<text x="34.6" y="132.44" font-size="13.4" text-anchor="end">10</text>
<text x="34.6" y="105.12" font-size="13.4" text-anchor="end">12</text>
<text x="34.6" y="77.81" font-size="13.4" text-anchor="end">14</text>
<text x="34.6" y="50.50" font-size="13.4" text-anchor="end">16</text>
<text x="37.50" y="277.2" font-size="13.3" text-anchor="middle">0.1</text>
<text x="155.17" y="277.2" font-size="13.3" text-anchor="middle">1</text>
<text x="272.83" y="277.2" font-size="13.3" text-anchor="middle">10</text>
<text x="390.50" y="277.2" font-size="13.3" text-anchor="middle">100</text>
<text x="189.9" y="289.6" font-size="13.2">E</text>
<text x="197.5" y="294.3" font-size="12">ν</text>
<text x="205.7" y="289.6" font-size="13.2">(GeV)</text>
<g transform="translate(17.3,191.3) rotate(-90)">
<text x="0" y="0" font-size="15">σ</text>
<text x="6.8" y="4.6" font-size="11.5">ν</text>
<text x="14.8" y="0" font-size="13.2">(10</text>
<text x="33.9" y="-7.8" font-size="9.2">-39</text>
<text x="46.0" y="0" font-size="13.2">cm</text>
<text x="62.2" y="-7.8" font-size="9.2">2</text>
<text x="67.0" y="0" font-size="13.2">)</text>
</g>
<path d="M205,56.4H224" stroke="#0000ff" stroke-width="1.7" fill="none"/>
<path d="M205,68.6H224" stroke="#bc8f8f" stroke-width="1.05" stroke-dasharray="5.2 2.0 0.8 2.0" stroke-dashoffset="6.9" fill="none"/>
<path d="M205,82.4H223.3" stroke="#ff0000" stroke-width="1.1" stroke-dasharray="3.5 2.0 3.5 2.1 0.8 2.1" stroke-dashoffset="5.8" fill="none"/>
<path d="M300.9,58.4H318.5" stroke="#ff00ff" stroke-width="1.4" stroke-dasharray="6.5 2.8" fill="none"/>
<path d="M300.9,71.3H319.8" stroke="#00ff00" stroke-width="1.1" fill="none"/>
<path d="M300.9,82.85H319.8" stroke="#670748" stroke-width="1.05" fill="none"/>
<text x="229.6" y="59.9" font-size="10.1">SuSAv2</text>
<text x="229.6" y="70.8" font-size="10.1">SuSAv2, T<tspan dx="0.6" dy="3.9" font-size="8" letter-spacing="0.2">VV</tspan></text>
<text x="229.6" y="84.2" font-size="10.1">SuSAv2, T<tspan dx="0.6" dy="3.9" font-size="8" letter-spacing="0.2">AA</tspan></text>
<text x="326.0" y="60.1" font-size="10.1">SuSAv2, T’<tspan dx="0.6" dy="3.9" font-size="8" letter-spacing="0.2">VA</tspan></text>
<text x="326.0" y="74.3" font-size="10.1">SuSAv2, T</text>
<text x="326.0" y="85.5" font-size="10.1">SuSAv2, L</text>
</svg></body></html>
